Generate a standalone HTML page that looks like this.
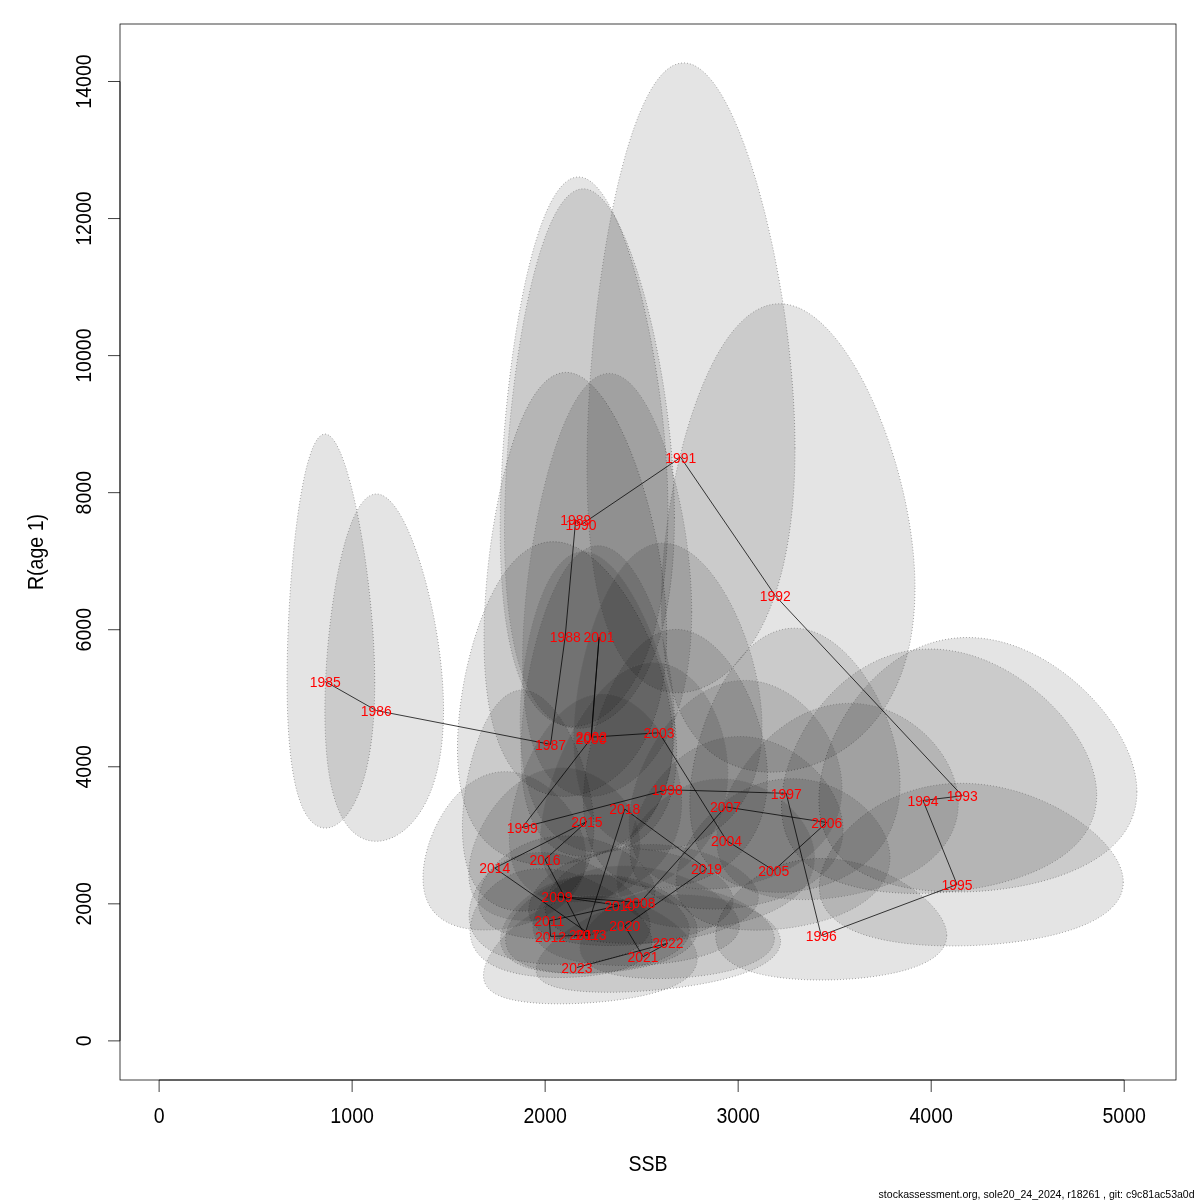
<!DOCTYPE html>
<html><head><meta charset="utf-8"><style>
html,body{margin:0;padding:0;background:#fff;width:1200px;height:1200px;overflow:hidden}
svg{display:block;font-family:"Liberation Sans",sans-serif;will-change:transform}
</style></head><body>
<svg width="1200" height="1200" viewBox="0 0 1200 1200">
<rect width="1200" height="1200" fill="#fff"/>
<g fill="rgba(0,0,0,0.105)" stroke="#6a6a6a" stroke-width="0.75" stroke-dasharray="0.75 2.25">
<path d="M374.71 682.44 L374.67 689.74 L374.54 696.87 L374.32 703.84 L374.02 710.63 L373.63 717.25 L373.16 723.68 L372.61 729.92 L371.98 735.98 L371.26 741.84 L370.47 747.50 L369.61 752.97 L368.67 758.23 L367.66 763.30 L366.58 768.17 L365.44 772.84 L364.23 777.31 L362.97 781.58 L361.65 785.66 L360.27 789.54 L358.85 793.22 L357.38 796.71 L355.87 800.00 L354.32 803.11 L352.73 806.02 L351.11 808.75 L349.46 811.29 L347.78 813.64 L346.09 815.82 L344.37 817.81 L342.64 819.62 L340.90 821.25 L339.15 822.70 L337.39 823.98 L335.63 825.08 L333.87 826.01 L332.12 826.77 L330.37 827.35 L328.63 827.76 L326.91 827.99 L325.20 828.06 L323.51 827.95 L321.83 827.67 L320.18 827.22 L318.56 826.59 L316.96 825.79 L315.39 824.82 L313.84 823.67 L312.34 822.35 L310.86 820.85 L309.42 819.17 L308.01 817.32 L306.65 815.28 L305.32 813.06 L304.03 810.66 L302.79 808.07 L301.59 805.30 L300.43 802.33 L299.31 799.18 L298.24 795.84 L297.22 792.30 L296.24 788.57 L295.31 784.64 L294.43 780.51 L293.60 776.19 L292.81 771.67 L292.07 766.95 L291.39 762.03 L290.75 756.91 L290.16 751.59 L289.63 746.08 L289.14 740.36 L288.70 734.45 L288.32 728.35 L287.98 722.06 L287.70 715.58 L287.47 708.92 L287.29 702.08 L287.16 695.07 L287.08 687.89 L287.06 680.56 L287.08 673.07 L287.16 665.44 L287.29 657.68 L287.47 649.80 L287.70 641.80 L287.98 633.71 L288.32 625.53 L288.70 617.29 L289.14 608.99 L289.63 600.65 L290.16 592.30 L290.75 583.94 L291.39 575.59 L292.07 567.28 L292.81 559.03 L293.60 550.86 L294.43 542.79 L295.31 534.84 L296.24 527.03 L297.22 519.39 L298.24 511.94 L299.31 504.70 L300.43 497.70 L301.59 490.96 L302.79 484.50 L304.03 478.35 L305.32 472.51 L306.65 467.03 L308.01 461.91 L309.42 457.17 L310.86 452.83 L312.34 448.91 L313.84 445.42 L315.39 442.38 L316.96 439.80 L318.56 437.68 L320.18 436.04 L321.83 434.88 L323.51 434.21 L325.20 434.03 L326.91 434.34 L328.63 435.13 L330.37 436.41 L332.12 438.18 L333.87 440.41 L335.63 443.11 L337.39 446.27 L339.15 449.87 L340.90 453.90 L342.64 458.34 L344.37 463.17 L346.09 468.39 L347.78 473.97 L349.46 479.88 L351.11 486.12 L352.73 492.65 L354.32 499.46 L355.87 506.53 L357.38 513.82 L358.85 521.32 L360.27 529.00 L361.65 536.85 L362.97 544.83 L364.23 552.93 L365.44 561.13 L366.58 569.40 L367.66 577.71 L368.67 586.06 L369.61 594.42 L370.47 602.78 L371.26 611.11 L371.98 619.39 L372.61 627.62 L373.16 635.78 L373.63 643.85 L374.02 651.81 L374.32 659.67 L374.54 667.40 L374.67 674.99 Z"/>
<path d="M443.53 710.00 L443.47 716.48 L443.29 722.83 L443.00 729.04 L442.58 735.09 L442.06 741.00 L441.41 746.74 L440.66 752.32 L439.79 757.74 L438.82 762.99 L437.74 768.07 L436.56 772.98 L435.28 777.72 L433.91 782.28 L432.44 786.66 L430.88 790.87 L429.24 794.91 L427.52 798.77 L425.72 802.45 L423.85 805.96 L421.91 809.30 L419.91 812.47 L417.85 815.46 L415.74 818.28 L413.58 820.94 L411.38 823.42 L409.14 825.74 L406.86 827.89 L404.56 829.88 L402.23 831.71 L399.88 833.37 L397.51 834.87 L395.14 836.22 L392.76 837.40 L390.37 838.43 L387.99 839.30 L385.61 840.01 L383.25 840.56 L380.90 840.96 L378.56 841.21 L376.25 841.30 L373.96 841.23 L371.70 841.01 L369.47 840.63 L367.27 840.10 L365.11 839.42 L362.99 838.57 L360.91 837.57 L358.87 836.41 L356.88 835.09 L354.94 833.61 L353.05 831.97 L351.21 830.17 L349.42 828.21 L347.69 826.08 L346.01 823.79 L344.40 821.33 L342.84 818.70 L341.34 815.90 L339.90 812.93 L338.52 809.80 L337.21 806.49 L335.96 803.00 L334.78 799.34 L333.66 795.51 L332.60 791.50 L331.61 787.32 L330.69 782.96 L329.84 778.43 L329.05 773.72 L328.33 768.83 L327.68 763.78 L327.09 758.56 L326.58 753.16 L326.13 747.60 L325.75 741.88 L325.44 736.00 L325.20 729.97 L325.03 723.79 L324.92 717.46 L324.89 711.00 L324.92 704.41 L325.03 697.69 L325.20 690.86 L325.44 683.93 L325.75 676.90 L326.13 669.79 L326.58 662.61 L327.09 655.38 L327.68 648.09 L328.33 640.78 L329.05 633.45 L329.84 626.11 L330.69 618.80 L331.61 611.52 L332.60 604.29 L333.66 597.13 L334.78 590.05 L335.96 583.08 L337.21 576.24 L338.52 569.55 L339.90 563.02 L341.34 556.67 L342.84 550.53 L344.40 544.62 L346.01 538.94 L347.69 533.53 L349.42 528.41 L351.21 523.57 L353.05 519.06 L354.94 514.88 L356.88 511.04 L358.87 507.56 L360.91 504.46 L362.99 501.74 L365.11 499.42 L367.27 497.50 L369.47 495.99 L371.70 494.90 L373.96 494.23 L376.25 493.99 L378.56 494.17 L380.90 494.77 L383.25 495.80 L385.61 497.24 L387.99 499.10 L390.37 501.36 L392.76 504.02 L395.14 507.06 L397.51 510.48 L399.88 514.27 L402.23 518.40 L404.56 522.86 L406.86 527.65 L409.14 532.73 L411.38 538.10 L413.58 543.73 L415.74 549.61 L417.85 555.72 L419.91 562.04 L421.91 568.54 L423.85 575.21 L425.72 582.03 L427.52 588.98 L429.24 596.04 L430.88 603.19 L432.44 610.41 L433.91 617.68 L435.28 625.00 L436.56 632.33 L437.74 639.66 L438.82 646.98 L439.79 654.26 L440.66 661.51 L441.41 668.70 L442.06 675.82 L442.58 682.86 L443.00 689.81 L443.29 696.66 L443.47 703.39 Z"/>
<path d="M672.77 740.51 L672.66 746.60 L672.34 752.55 L671.80 758.38 L671.05 764.06 L670.10 769.60 L668.93 775.00 L667.56 780.24 L665.99 785.33 L664.22 790.26 L662.26 795.04 L660.11 799.65 L657.79 804.10 L655.29 808.39 L652.62 812.52 L649.79 816.48 L646.80 820.28 L643.67 823.91 L640.41 827.38 L637.01 830.70 L633.49 833.85 L629.86 836.83 L626.12 839.66 L622.29 842.34 L618.36 844.85 L614.36 847.21 L610.29 849.42 L606.16 851.47 L601.97 853.38 L597.75 855.13 L593.48 856.73 L589.19 858.18 L584.88 859.49 L580.55 860.65 L576.23 861.67 L571.90 862.54 L567.59 863.27 L563.30 863.86 L559.03 864.30 L554.80 864.61 L550.60 864.77 L546.45 864.79 L542.35 864.67 L538.30 864.40 L534.31 864.00 L530.40 863.45 L526.55 862.76 L522.78 861.92 L519.08 860.95 L515.47 859.82 L511.95 858.56 L508.52 857.14 L505.19 855.58 L501.95 853.87 L498.81 852.01 L495.77 850.00 L492.84 847.83 L490.01 845.51 L487.29 843.04 L484.69 840.41 L482.19 837.62 L479.81 834.68 L477.55 831.57 L475.40 828.31 L473.37 824.88 L471.46 821.29 L469.67 817.53 L468.00 813.62 L466.45 809.54 L465.03 805.29 L463.72 800.88 L462.54 796.31 L461.48 791.58 L460.55 786.70 L459.74 781.65 L459.05 776.45 L458.49 771.09 L458.05 765.59 L457.74 759.94 L457.55 754.16 L457.49 748.24 L457.55 742.19 L457.74 736.02 L458.05 729.73 L458.49 723.34 L459.05 716.86 L459.74 710.28 L460.55 703.63 L461.48 696.91 L462.54 690.14 L463.72 683.33 L465.03 676.49 L466.45 669.64 L468.00 662.80 L469.67 655.97 L471.46 649.17 L473.37 642.43 L475.40 635.75 L477.55 629.16 L479.81 622.68 L482.19 616.31 L484.69 610.09 L487.29 604.03 L490.01 598.15 L492.84 592.47 L495.77 587.01 L498.81 581.78 L501.95 576.80 L505.19 572.09 L508.52 567.67 L511.95 563.55 L515.47 559.75 L519.08 556.29 L522.78 553.16 L526.55 550.39 L530.40 547.99 L534.31 545.97 L538.30 544.33 L542.35 543.08 L546.45 542.22 L550.60 541.77 L554.80 541.71 L559.03 542.06 L563.30 542.80 L567.59 543.95 L571.90 545.48 L576.23 547.40 L580.55 549.70 L584.88 552.37 L589.19 555.40 L593.48 558.77 L597.75 562.48 L601.97 566.52 L606.16 570.86 L610.29 575.49 L614.36 580.39 L618.36 585.55 L622.29 590.96 L626.12 596.58 L629.86 602.41 L633.49 608.42 L637.01 614.60 L640.41 620.92 L643.67 627.38 L646.80 633.94 L649.79 640.59 L652.62 647.32 L655.29 654.10 L657.79 660.93 L660.11 667.77 L662.26 674.62 L664.22 681.47 L665.99 688.28 L667.56 695.07 L668.93 701.80 L670.10 708.47 L671.05 715.07 L671.80 721.58 L672.34 728.00 L672.66 734.31 Z"/>
<path d="M666.65 634.36 L666.56 642.31 L666.30 650.09 L665.87 657.70 L665.26 665.14 L664.48 672.39 L663.53 679.44 L662.42 686.30 L661.14 692.96 L659.70 699.42 L658.11 705.66 L656.36 711.70 L654.46 717.53 L652.42 723.15 L650.24 728.55 L647.93 733.73 L645.49 738.71 L642.92 743.47 L640.24 748.01 L637.45 752.35 L634.56 756.47 L631.57 760.38 L628.48 764.08 L625.32 767.57 L622.07 770.85 L618.76 773.93 L615.38 776.81 L611.95 779.48 L608.47 781.95 L604.94 784.23 L601.38 786.30 L597.78 788.18 L594.17 789.86 L590.54 791.34 L586.90 792.64 L583.26 793.74 L579.62 794.65 L575.98 795.37 L572.37 795.89 L568.77 796.23 L565.20 796.38 L561.66 796.34 L558.16 796.11 L554.69 795.68 L551.28 795.07 L547.91 794.27 L544.60 793.28 L541.35 792.09 L538.16 790.71 L535.04 789.14 L531.98 787.37 L529.00 785.41 L526.10 783.25 L523.28 780.89 L520.54 778.33 L517.88 775.57 L515.31 772.60 L512.83 769.44 L510.45 766.06 L508.16 762.48 L505.96 758.68 L503.86 754.68 L501.86 750.47 L499.96 746.04 L498.17 741.40 L496.47 736.55 L494.88 731.48 L493.40 726.20 L492.02 720.70 L490.75 714.99 L489.59 709.07 L488.54 702.94 L487.59 696.60 L486.76 690.06 L486.04 683.31 L485.42 676.36 L484.92 669.22 L484.53 661.89 L484.25 654.38 L484.08 646.69 L484.03 638.83 L484.08 630.81 L484.25 622.64 L484.53 614.33 L484.92 605.89 L485.42 597.34 L486.04 588.68 L486.76 579.93 L487.59 571.11 L488.54 562.23 L489.59 553.31 L490.75 544.36 L492.02 535.41 L493.40 526.48 L494.88 517.59 L496.47 508.75 L498.17 499.99 L499.96 491.33 L501.86 482.80 L503.86 474.42 L505.96 466.22 L508.16 458.21 L510.45 450.42 L512.83 442.87 L515.31 435.60 L517.88 428.62 L520.54 421.95 L523.28 415.62 L526.10 409.65 L529.00 404.07 L531.98 398.88 L535.04 394.11 L538.16 389.78 L541.35 385.90 L544.60 382.49 L547.91 379.56 L551.28 377.11 L554.69 375.17 L558.16 373.74 L561.66 372.82 L565.20 372.41 L568.77 372.53 L572.37 373.16 L575.98 374.31 L579.62 375.96 L583.26 378.13 L586.90 380.78 L590.54 383.93 L594.17 387.55 L597.78 391.63 L601.38 396.15 L604.94 401.11 L608.47 406.47 L611.95 412.23 L615.38 418.36 L618.76 424.84 L622.07 431.65 L625.32 438.76 L628.48 446.16 L631.57 453.81 L634.56 461.70 L637.45 469.80 L640.24 478.09 L642.92 486.54 L645.49 495.13 L647.93 503.83 L650.24 512.63 L652.42 521.49 L654.46 530.41 L656.36 539.35 L658.11 548.30 L659.70 557.23 L661.14 566.14 L662.42 575.00 L663.53 583.79 L664.48 592.50 L665.26 601.12 L665.87 609.62 L666.30 618.00 L666.56 626.25 Z"/>
<path d="M667.93 510.93 L667.86 521.35 L667.62 531.55 L667.23 541.54 L666.68 551.30 L665.98 560.82 L665.13 570.10 L664.13 579.13 L662.98 587.89 L661.68 596.40 L660.25 604.64 L658.67 612.61 L656.96 620.30 L655.12 627.72 L653.16 634.87 L651.07 641.74 L648.87 648.32 L646.55 654.64 L644.13 660.67 L641.60 666.43 L638.98 671.91 L636.28 677.12 L633.48 682.06 L630.61 686.73 L627.67 691.12 L624.66 695.25 L621.59 699.12 L618.47 702.72 L615.30 706.06 L612.08 709.14 L608.84 711.97 L605.56 714.54 L602.26 716.85 L598.94 718.91 L595.61 720.72 L592.28 722.29 L588.94 723.60 L585.61 724.67 L582.29 725.49 L578.98 726.06 L575.70 726.39 L572.44 726.47 L569.21 726.31 L566.02 725.90 L562.87 725.25 L559.76 724.35 L556.70 723.21 L553.69 721.81 L550.73 720.17 L547.84 718.28 L545.01 716.14 L542.24 713.74 L539.54 711.09 L536.92 708.19 L534.36 705.02 L531.89 701.60 L529.50 697.92 L527.18 693.97 L524.96 689.75 L522.81 685.27 L520.76 680.52 L518.80 675.49 L516.93 670.19 L515.15 664.62 L513.47 658.78 L511.88 652.65 L510.39 646.25 L508.99 639.57 L507.70 632.62 L506.51 625.39 L505.42 617.88 L504.43 610.09 L503.54 602.04 L502.76 593.71 L502.08 585.12 L501.50 576.27 L501.03 567.17 L500.66 557.81 L500.40 548.21 L500.24 538.38 L500.19 528.32 L500.24 518.05 L500.40 507.57 L500.66 496.90 L501.03 486.06 L501.50 475.06 L502.08 463.90 L502.76 452.63 L503.54 441.24 L504.43 429.77 L505.42 418.22 L506.51 406.64 L507.70 395.03 L508.99 383.43 L510.39 371.87 L511.88 360.35 L513.47 348.93 L515.15 337.62 L516.93 326.46 L518.80 315.47 L520.76 304.69 L522.81 294.15 L524.96 283.88 L527.18 273.90 L529.50 264.26 L531.89 254.98 L534.36 246.09 L536.92 237.63 L539.54 229.61 L542.24 222.08 L545.01 215.05 L547.84 208.55 L550.73 202.60 L553.69 197.23 L556.70 192.46 L559.76 188.30 L562.87 184.77 L566.02 181.88 L569.21 179.65 L572.44 178.08 L575.70 177.18 L578.98 176.95 L582.29 177.39 L585.61 178.51 L588.94 180.29 L592.28 182.73 L595.61 185.83 L598.94 189.56 L602.26 193.92 L605.56 198.88 L608.84 204.44 L612.08 210.56 L615.30 217.23 L618.47 224.43 L621.59 232.12 L624.66 240.28 L627.67 248.88 L630.61 257.90 L633.48 267.30 L636.28 277.05 L638.98 287.12 L641.60 297.49 L644.13 308.11 L646.55 318.96 L648.87 330.00 L651.07 341.22 L653.16 352.56 L655.12 364.02 L656.96 375.55 L658.67 387.13 L660.25 398.74 L661.68 410.34 L662.98 421.91 L664.13 433.44 L665.13 444.88 L665.98 456.24 L666.68 467.48 L667.23 478.58 L667.62 489.54 L667.86 500.33 Z"/>
<path d="M674.41 517.77 L674.33 527.96 L674.09 537.96 L673.69 547.74 L673.14 557.30 L672.43 566.62 L671.57 575.70 L670.55 584.54 L669.39 593.12 L668.08 601.45 L666.62 609.51 L665.03 617.31 L663.30 624.84 L661.43 632.11 L659.44 639.10 L657.33 645.81 L655.10 652.26 L652.75 658.43 L650.30 664.34 L647.74 669.97 L645.09 675.33 L642.35 680.42 L639.52 685.24 L636.61 689.80 L633.63 694.09 L630.58 698.12 L627.47 701.89 L624.31 705.40 L621.10 708.66 L617.85 711.65 L614.56 714.40 L611.24 716.89 L607.90 719.14 L604.54 721.13 L601.16 722.88 L597.79 724.39 L594.41 725.64 L591.04 726.66 L587.67 727.43 L584.33 727.96 L581.00 728.25 L577.70 728.29 L574.43 728.10 L571.20 727.66 L568.00 726.98 L564.86 726.05 L561.76 724.89 L558.71 723.48 L555.72 721.82 L552.78 719.92 L549.91 717.77 L547.11 715.37 L544.38 712.71 L541.72 709.81 L539.14 706.65 L536.63 703.24 L534.21 699.57 L531.87 695.63 L529.61 691.44 L527.44 686.98 L525.36 682.26 L523.37 677.27 L521.48 672.01 L519.68 666.48 L517.97 660.68 L516.37 654.61 L514.86 648.27 L513.45 641.65 L512.14 634.76 L510.93 627.60 L509.82 620.17 L508.82 612.47 L507.92 604.51 L507.13 596.28 L506.44 587.79 L505.85 579.05 L505.38 570.06 L505.00 560.82 L504.74 551.35 L504.58 541.66 L504.52 531.74 L504.58 521.62 L504.74 511.30 L505.00 500.79 L505.38 490.12 L505.85 479.29 L506.44 468.33 L507.13 457.24 L507.92 446.05 L508.82 434.78 L509.82 423.45 L510.93 412.08 L512.14 400.70 L513.45 389.33 L514.86 377.99 L516.37 366.72 L517.97 355.54 L519.68 344.47 L521.48 333.56 L523.37 322.82 L525.36 312.29 L527.44 302.00 L529.61 291.98 L531.87 282.26 L534.21 272.87 L536.63 263.84 L539.14 255.20 L541.72 246.98 L544.38 239.20 L547.11 231.90 L549.91 225.09 L552.78 218.81 L555.72 213.08 L558.71 207.91 L561.76 203.33 L564.86 199.36 L568.00 196.00 L571.20 193.27 L574.43 191.18 L577.70 189.75 L581.00 188.97 L584.33 188.84 L587.67 189.38 L591.04 190.57 L594.41 192.41 L597.79 194.90 L601.16 198.02 L604.54 201.77 L607.90 206.12 L611.24 211.07 L614.56 216.60 L617.85 222.67 L621.10 229.28 L624.31 236.40 L627.47 244.00 L630.58 252.06 L633.63 260.55 L636.61 269.44 L639.52 278.70 L642.35 288.30 L645.09 298.21 L647.74 308.40 L650.30 318.84 L652.75 329.51 L655.10 340.36 L657.33 351.37 L659.44 362.51 L661.43 373.75 L663.30 385.07 L665.03 396.43 L666.62 407.81 L668.08 419.19 L669.39 430.53 L670.55 441.83 L671.57 453.05 L672.43 464.18 L673.14 475.19 L673.69 486.07 L674.09 496.81 L674.33 507.38 Z"/>
<path d="M794.97 448.59 L794.87 460.49 L794.58 472.13 L794.10 483.53 L793.42 494.65 L792.56 505.50 L791.50 516.06 L790.26 526.33 L788.84 536.31 L787.23 545.98 L785.46 555.33 L783.51 564.38 L781.39 573.12 L779.11 581.53 L776.68 589.63 L774.09 597.41 L771.36 604.87 L768.50 612.02 L765.50 618.84 L762.37 625.35 L759.13 631.55 L755.77 637.43 L752.31 643.00 L748.76 648.27 L745.11 653.22 L741.38 657.87 L737.58 662.23 L733.71 666.28 L729.78 670.03 L725.80 673.49 L721.78 676.66 L717.72 679.54 L713.63 682.13 L709.51 684.44 L705.39 686.46 L701.25 688.20 L697.12 689.66 L692.99 690.84 L688.87 691.74 L684.77 692.36 L680.70 692.70 L676.66 692.77 L672.66 692.56 L668.70 692.07 L664.78 691.30 L660.93 690.26 L657.13 688.93 L653.39 687.33 L649.73 685.44 L646.14 683.27 L642.62 680.82 L639.19 678.07 L635.84 675.04 L632.58 671.72 L629.41 668.11 L626.34 664.20 L623.37 659.99 L620.50 655.48 L617.73 650.67 L615.07 645.55 L612.52 640.13 L610.09 634.39 L607.76 628.35 L605.55 621.99 L603.46 615.31 L601.49 608.32 L599.64 601.01 L597.91 593.38 L596.30 585.44 L594.82 577.17 L593.46 568.59 L592.24 559.69 L591.13 550.48 L590.16 540.96 L589.31 531.13 L588.60 521.00 L588.01 510.58 L587.55 499.86 L587.23 488.87 L587.03 477.60 L586.96 466.07 L587.03 454.30 L587.23 442.28 L587.55 430.05 L588.01 417.61 L588.60 404.98 L589.31 392.18 L590.16 379.23 L591.13 366.15 L592.24 352.97 L593.46 339.71 L594.82 326.40 L596.30 313.06 L597.91 299.72 L599.64 286.42 L601.49 273.19 L603.46 260.05 L605.55 247.04 L607.76 234.20 L610.09 221.56 L612.52 209.16 L615.07 197.04 L617.73 185.22 L620.50 173.75 L623.37 162.66 L626.34 151.99 L629.41 141.78 L632.58 132.06 L635.84 122.85 L639.19 114.20 L642.62 106.14 L646.14 98.69 L649.73 91.89 L653.39 85.75 L657.13 80.30 L660.93 75.56 L664.78 71.55 L668.70 68.29 L672.66 65.79 L676.66 64.05 L680.70 63.09 L684.77 62.90 L688.87 63.49 L692.99 64.86 L697.12 67.00 L701.25 69.90 L705.39 73.56 L709.51 77.95 L713.63 83.06 L717.72 88.87 L721.78 95.36 L725.80 102.51 L729.78 110.28 L733.71 118.65 L737.58 127.60 L741.38 137.08 L745.11 147.06 L748.76 157.52 L752.31 168.41 L755.77 179.70 L759.13 191.36 L762.37 203.34 L765.50 215.62 L768.50 228.14 L771.36 240.89 L774.09 253.82 L776.68 266.90 L779.11 280.10 L781.39 293.37 L783.51 306.69 L785.46 320.03 L787.23 333.36 L788.84 346.65 L790.26 359.88 L791.50 373.01 L792.56 386.02 L793.42 398.89 L794.10 411.60 L794.58 424.14 L794.87 436.47 Z"/>
<path d="M914.97 588.10 L914.85 596.98 L914.49 605.69 L913.90 614.20 L913.07 622.53 L912.01 630.65 L910.71 638.57 L909.19 646.27 L907.45 653.75 L905.48 661.01 L903.31 668.04 L900.92 674.84 L898.32 681.41 L895.53 687.75 L892.55 693.85 L889.39 699.71 L886.05 705.33 L882.53 710.72 L878.86 715.88 L875.04 720.80 L871.07 725.48 L866.96 729.93 L862.73 734.15 L858.38 738.13 L853.92 741.89 L849.36 745.42 L844.71 748.72 L839.99 751.80 L835.19 754.66 L830.32 757.29 L825.41 759.70 L820.45 761.90 L815.46 763.88 L810.44 765.65 L805.40 767.20 L800.36 768.54 L795.31 769.66 L790.28 770.58 L785.26 771.28 L780.26 771.78 L775.30 772.06 L770.38 772.14 L765.50 772.01 L760.68 771.67 L755.92 771.11 L751.22 770.35 L746.60 769.38 L742.06 768.20 L737.60 766.80 L733.23 765.19 L728.96 763.37 L724.79 761.33 L720.72 759.08 L716.76 756.61 L712.91 753.91 L709.18 751.00 L705.58 747.86 L702.09 744.49 L698.73 740.90 L695.51 737.09 L692.42 733.04 L689.46 728.76 L686.64 724.25 L683.96 719.50 L681.43 714.52 L679.04 709.30 L676.79 703.85 L674.70 698.16 L672.75 692.23 L670.96 686.07 L669.31 679.67 L667.82 673.04 L666.49 666.18 L665.31 659.09 L664.28 651.77 L663.42 644.23 L662.70 636.47 L662.15 628.50 L661.76 620.32 L661.52 611.94 L661.44 603.37 L661.52 594.62 L661.76 585.69 L662.15 576.60 L662.70 567.36 L663.42 557.99 L664.28 548.48 L665.31 538.87 L666.49 529.17 L667.82 519.40 L669.31 509.56 L670.96 499.69 L672.75 489.80 L674.70 479.91 L676.79 470.06 L679.04 460.25 L681.43 450.51 L683.96 440.87 L686.64 431.36 L689.46 421.99 L692.42 412.80 L695.51 403.82 L698.73 395.06 L702.09 386.55 L705.58 378.33 L709.18 370.42 L712.91 362.84 L716.76 355.62 L720.72 348.78 L724.79 342.35 L728.96 336.35 L733.23 330.81 L737.60 325.73 L742.06 321.14 L746.60 317.07 L751.22 313.51 L755.92 310.49 L760.68 308.02 L765.50 306.10 L770.38 304.75 L775.30 303.97 L780.26 303.76 L785.26 304.12 L790.28 305.05 L795.31 306.56 L800.36 308.62 L805.40 311.25 L810.44 314.41 L815.46 318.11 L820.45 322.32 L825.41 327.04 L830.32 332.25 L835.19 337.92 L839.99 344.03 L844.71 350.58 L849.36 357.52 L853.92 364.84 L858.38 372.51 L862.73 380.51 L866.96 388.81 L871.07 397.38 L875.04 406.20 L878.86 415.25 L882.53 424.49 L886.05 433.90 L889.39 443.45 L892.55 453.11 L895.53 462.87 L898.32 472.69 L900.92 482.56 L903.31 492.45 L905.48 502.34 L907.45 512.20 L909.19 522.02 L910.71 531.78 L912.01 541.46 L913.07 551.04 L913.90 560.51 L914.49 569.85 L914.85 579.05 Z"/>
<path d="M1136.90 791.74 L1136.75 796.56 L1136.30 801.30 L1135.56 805.93 L1134.53 810.46 L1133.21 814.88 L1131.60 819.18 L1129.70 823.38 L1127.53 827.45 L1125.08 831.40 L1122.37 835.23 L1119.39 838.93 L1116.16 842.51 L1112.68 845.96 L1108.96 849.29 L1105.01 852.48 L1100.85 855.55 L1096.47 858.49 L1091.88 861.30 L1087.11 863.98 L1082.16 866.53 L1077.03 868.96 L1071.75 871.26 L1066.31 873.44 L1060.74 875.49 L1055.05 877.41 L1049.24 879.22 L1043.33 880.90 L1037.32 882.46 L1031.24 883.89 L1025.09 885.21 L1018.89 886.41 L1012.64 887.49 L1006.35 888.45 L1000.04 889.30 L993.72 890.03 L987.40 890.64 L981.09 891.14 L974.79 891.52 L968.53 891.79 L962.30 891.94 L956.12 891.98 L950.00 891.91 L943.94 891.72 L937.96 891.41 L932.06 890.99 L926.25 890.46 L920.54 889.81 L914.93 889.04 L909.44 888.16 L904.06 887.16 L898.81 886.04 L893.68 884.80 L888.70 883.45 L883.85 881.97 L879.15 880.37 L874.60 878.65 L870.21 876.81 L865.98 874.85 L861.91 872.76 L858.01 870.54 L854.28 868.20 L850.72 865.73 L847.34 863.14 L844.14 860.42 L841.12 857.56 L838.28 854.58 L835.64 851.48 L833.18 848.24 L830.91 844.88 L828.83 841.38 L826.95 837.76 L825.26 834.02 L823.77 830.15 L822.48 826.16 L821.38 822.05 L820.48 817.82 L819.78 813.48 L819.28 809.02 L818.98 804.46 L818.88 799.80 L818.98 795.03 L819.28 790.18 L819.78 785.23 L820.48 780.21 L821.38 775.11 L822.48 769.95 L823.77 764.73 L825.26 759.46 L826.95 754.15 L828.83 748.81 L830.91 743.45 L833.18 738.09 L835.64 732.73 L838.28 727.38 L841.12 722.06 L844.14 716.79 L847.34 711.57 L850.72 706.41 L854.28 701.34 L858.01 696.37 L861.91 691.50 L865.98 686.77 L870.21 682.17 L874.60 677.72 L879.15 673.44 L883.85 669.34 L888.70 665.44 L893.68 661.75 L898.81 658.28 L904.06 655.04 L909.44 652.05 L914.93 649.31 L920.54 646.83 L926.25 644.64 L932.06 642.72 L937.96 641.10 L943.94 639.77 L950.00 638.74 L956.12 638.02 L962.30 637.60 L968.53 637.50 L974.79 637.70 L981.09 638.21 L987.40 639.03 L993.72 640.16 L1000.04 641.58 L1006.35 643.30 L1012.64 645.31 L1018.89 647.59 L1025.09 650.15 L1031.24 652.97 L1037.32 656.05 L1043.33 659.36 L1049.24 662.90 L1055.05 666.67 L1060.74 670.63 L1066.31 674.79 L1071.75 679.12 L1077.03 683.62 L1082.16 688.26 L1087.11 693.04 L1091.88 697.94 L1096.47 702.95 L1100.85 708.05 L1105.01 713.23 L1108.96 718.47 L1112.68 723.76 L1116.16 729.09 L1119.39 734.44 L1122.37 739.80 L1125.08 745.17 L1127.53 750.52 L1129.70 755.85 L1131.60 761.15 L1133.21 766.40 L1134.53 771.60 L1135.56 776.75 L1136.30 781.82 L1136.75 786.82 Z"/>
<path d="M1096.71 795.15 L1096.56 799.82 L1096.12 804.41 L1095.38 808.89 L1094.35 813.29 L1093.03 817.57 L1091.42 821.76 L1089.52 825.83 L1087.35 829.79 L1084.91 833.64 L1082.20 837.37 L1079.23 840.98 L1076.00 844.48 L1072.53 847.85 L1068.82 851.10 L1064.89 854.22 L1060.73 857.23 L1056.36 860.11 L1051.79 862.87 L1047.03 865.50 L1042.10 868.01 L1036.99 870.40 L1031.73 872.66 L1026.32 874.81 L1020.77 876.83 L1015.10 878.73 L1009.32 880.52 L1003.44 882.18 L997.47 883.73 L991.42 885.16 L985.31 886.48 L979.14 887.67 L972.93 888.76 L966.69 889.73 L960.43 890.58 L954.15 891.33 L947.88 891.96 L941.62 892.47 L935.38 892.88 L929.17 893.17 L923.00 893.36 L916.88 893.43 L910.82 893.39 L904.82 893.24 L898.90 892.98 L893.07 892.60 L887.32 892.12 L881.67 891.52 L876.13 890.81 L870.70 889.99 L865.39 889.05 L860.20 888.00 L855.15 886.84 L850.22 885.56 L845.44 884.16 L840.81 882.65 L836.32 881.02 L831.99 879.27 L827.82 877.40 L823.81 875.41 L819.97 873.30 L816.29 871.07 L812.79 868.72 L809.46 866.25 L806.31 863.65 L803.34 860.93 L800.55 858.08 L797.95 855.12 L795.53 852.03 L793.30 848.81 L791.26 845.48 L789.41 842.02 L787.75 838.44 L786.28 834.75 L785.01 830.93 L783.93 827.00 L783.05 822.96 L782.36 818.81 L781.87 814.55 L781.57 810.19 L781.47 805.73 L781.57 801.17 L781.87 796.53 L782.36 791.80 L783.05 787.00 L783.93 782.12 L785.01 777.18 L786.28 772.18 L787.75 767.14 L789.41 762.06 L791.26 756.95 L793.30 751.82 L795.53 746.68 L797.95 741.54 L800.55 736.41 L803.34 731.31 L806.31 726.25 L809.46 721.24 L812.79 716.29 L816.29 711.41 L819.97 706.63 L823.81 701.95 L827.82 697.38 L831.99 692.95 L836.32 688.65 L840.81 684.52 L845.44 680.55 L850.22 676.77 L855.15 673.19 L860.20 669.81 L865.39 666.65 L870.70 663.73 L876.13 661.04 L881.67 658.60 L887.32 656.43 L893.07 654.52 L898.90 652.89 L904.82 651.53 L910.82 650.46 L916.88 649.69 L923.00 649.20 L929.17 649.01 L935.38 649.11 L941.62 649.51 L947.88 650.21 L954.15 651.19 L960.43 652.46 L966.69 654.01 L972.93 655.84 L979.14 657.94 L985.31 660.30 L991.42 662.91 L997.47 665.77 L1003.44 668.86 L1009.32 672.18 L1015.10 675.70 L1020.77 679.43 L1026.32 683.34 L1031.73 687.43 L1036.99 691.67 L1042.10 696.07 L1047.03 700.60 L1051.79 705.25 L1056.36 710.00 L1060.73 714.85 L1064.89 719.78 L1068.82 724.78 L1072.53 729.83 L1076.00 734.92 L1079.23 740.04 L1082.20 745.17 L1084.91 750.31 L1087.35 755.45 L1089.52 760.57 L1091.42 765.66 L1093.03 770.71 L1094.35 775.72 L1095.38 780.68 L1096.12 785.58 L1096.56 790.40 Z"/>
<path d="M1123.28 882.14 L1123.14 885.22 L1122.72 888.24 L1122.02 891.20 L1121.04 894.08 L1119.78 896.90 L1118.25 899.65 L1116.45 902.32 L1114.39 904.92 L1112.07 907.44 L1109.49 909.88 L1106.66 912.24 L1103.59 914.52 L1100.29 916.71 L1096.76 918.83 L1093.01 920.87 L1089.05 922.82 L1084.88 924.69 L1080.53 926.48 L1075.99 928.18 L1071.28 929.81 L1066.40 931.35 L1061.38 932.82 L1056.21 934.20 L1050.91 935.50 L1045.48 936.73 L1039.95 937.87 L1034.32 938.94 L1028.60 939.93 L1022.81 940.84 L1016.95 941.68 L1011.03 942.44 L1005.07 943.12 L999.07 943.73 L993.05 944.26 L987.02 944.72 L980.98 945.11 L974.95 945.42 L968.94 945.66 L962.95 945.83 L957.00 945.92 L951.09 945.94 L945.24 945.88 L939.44 945.76 L933.72 945.56 L928.07 945.28 L922.51 944.94 L917.04 944.52 L911.66 944.02 L906.40 943.45 L901.24 942.81 L896.21 942.09 L891.29 941.29 L886.51 940.42 L881.86 939.47 L877.35 938.45 L872.98 937.34 L868.76 936.16 L864.70 934.90 L860.79 933.56 L857.04 932.14 L853.45 930.64 L850.03 929.05 L846.78 927.39 L843.70 925.64 L840.80 923.82 L838.07 921.91 L835.53 919.92 L833.16 917.84 L830.98 915.69 L828.98 913.45 L827.17 911.13 L825.54 908.73 L824.10 906.26 L822.86 903.70 L821.80 901.07 L820.94 898.36 L820.26 895.58 L819.78 892.73 L819.49 889.81 L819.39 886.82 L819.49 883.78 L819.78 880.67 L820.26 877.50 L820.94 874.29 L821.80 871.03 L822.86 867.73 L824.10 864.39 L825.54 861.02 L827.17 857.62 L828.98 854.21 L830.98 850.79 L833.16 847.36 L835.53 843.93 L838.07 840.51 L840.80 837.12 L843.70 833.75 L846.78 830.41 L850.03 827.12 L853.45 823.88 L857.04 820.71 L860.79 817.60 L864.70 814.58 L868.76 811.65 L872.98 808.81 L877.35 806.09 L881.86 803.48 L886.51 800.99 L891.29 798.64 L896.21 796.43 L901.24 794.37 L906.40 792.47 L911.66 790.73 L917.04 789.16 L922.51 787.77 L928.07 786.56 L933.72 785.54 L939.44 784.70 L945.24 784.06 L951.09 783.61 L957.00 783.36 L962.95 783.31 L968.94 783.46 L974.95 783.80 L980.98 784.34 L987.02 785.07 L993.05 786.00 L999.07 787.11 L1005.07 788.41 L1011.03 789.88 L1016.95 791.53 L1022.81 793.35 L1028.60 795.33 L1034.32 797.46 L1039.95 799.73 L1045.48 802.15 L1050.91 804.69 L1056.21 807.36 L1061.38 810.14 L1066.40 813.02 L1071.28 816.00 L1075.99 819.06 L1080.53 822.20 L1084.88 825.40 L1089.05 828.67 L1093.01 831.98 L1096.76 835.33 L1100.29 838.72 L1103.59 842.12 L1106.66 845.55 L1109.49 848.97 L1112.07 852.40 L1114.39 855.82 L1116.45 859.23 L1118.25 862.61 L1119.78 865.97 L1121.04 869.29 L1122.02 872.57 L1122.72 875.81 L1123.14 879.00 Z"/>
<path d="M946.72 935.50 L946.61 937.75 L946.30 939.94 L945.77 942.08 L945.04 944.17 L944.10 946.20 L942.95 948.17 L941.60 950.08 L940.05 951.93 L938.31 953.73 L936.38 955.46 L934.26 957.13 L931.96 958.73 L929.48 960.28 L926.83 961.77 L924.01 963.19 L921.03 964.55 L917.91 965.85 L914.63 967.09 L911.22 968.27 L907.67 969.39 L904.00 970.45 L900.22 971.45 L896.32 972.39 L892.33 973.27 L888.24 974.10 L884.06 974.87 L879.81 975.59 L875.49 976.25 L871.11 976.85 L866.68 977.40 L862.20 977.90 L857.69 978.34 L853.15 978.73 L848.58 979.07 L844.01 979.35 L839.43 979.59 L834.85 979.77 L830.28 979.90 L825.73 979.97 L821.20 980.00 L816.70 979.97 L812.24 979.90 L807.83 979.77 L803.46 979.59 L799.15 979.35 L794.90 979.07 L790.72 978.73 L786.62 978.34 L782.59 977.90 L778.64 977.40 L774.79 976.85 L771.02 976.25 L767.35 975.59 L763.79 974.87 L760.33 974.10 L756.97 973.27 L753.73 972.39 L750.61 971.45 L747.60 970.45 L744.72 969.39 L741.96 968.27 L739.32 967.09 L736.82 965.85 L734.45 964.55 L732.21 963.19 L730.11 961.77 L728.14 960.28 L726.32 958.73 L724.63 957.13 L723.09 955.46 L721.69 953.73 L720.43 951.93 L719.32 950.08 L718.36 948.17 L717.54 946.20 L716.88 944.17 L716.36 942.08 L715.98 939.94 L715.76 937.75 L715.68 935.50 L715.76 933.21 L715.98 930.86 L716.36 928.48 L716.88 926.06 L717.54 923.59 L718.36 921.10 L719.32 918.58 L720.43 916.03 L721.69 913.46 L723.09 910.88 L724.63 908.29 L726.32 905.69 L728.14 903.10 L730.11 900.52 L732.21 897.95 L734.45 895.40 L736.82 892.88 L739.32 890.39 L741.96 887.95 L744.72 885.55 L747.60 883.22 L750.61 880.95 L753.73 878.74 L756.97 876.62 L760.33 874.59 L763.79 872.64 L767.35 870.80 L771.02 869.07 L774.79 867.44 L778.64 865.94 L782.59 864.56 L786.62 863.31 L790.72 862.20 L794.90 861.22 L799.15 860.39 L803.46 859.71 L807.83 859.17 L812.24 858.79 L816.70 858.56 L821.20 858.48 L825.73 858.56 L830.28 858.79 L834.85 859.17 L839.43 859.71 L844.01 860.39 L848.58 861.22 L853.15 862.20 L857.69 863.31 L862.20 864.56 L866.68 865.94 L871.11 867.44 L875.49 869.07 L879.81 870.80 L884.06 872.64 L888.24 874.59 L892.33 876.62 L896.32 878.74 L900.22 880.95 L904.00 883.22 L907.67 885.55 L911.22 887.95 L914.63 890.39 L917.91 892.88 L921.03 895.40 L924.01 897.95 L926.83 900.52 L929.48 903.10 L931.96 905.69 L934.26 908.29 L936.38 910.88 L938.31 913.46 L940.05 916.03 L941.60 918.58 L942.95 921.10 L944.10 923.59 L945.04 926.06 L945.77 928.48 L946.30 930.86 L946.61 933.21 Z"/>
<path d="M900.03 783.76 L899.93 788.86 L899.65 793.87 L899.17 798.77 L898.51 803.57 L897.66 808.26 L896.62 812.83 L895.40 817.29 L894.00 821.62 L892.43 825.83 L890.68 829.92 L888.76 833.87 L886.68 837.70 L884.44 841.39 L882.04 844.95 L879.49 848.38 L876.80 851.67 L873.97 854.84 L871.00 857.86 L867.91 860.76 L864.70 863.52 L861.38 866.15 L857.95 868.65 L854.42 871.02 L850.80 873.25 L847.09 875.36 L843.30 877.34 L839.45 879.20 L835.53 880.92 L831.56 882.52 L827.53 884.00 L823.47 885.36 L819.37 886.59 L815.24 887.70 L811.10 888.69 L806.94 889.56 L802.78 890.31 L798.62 890.95 L794.46 891.46 L790.32 891.86 L786.20 892.14 L782.11 892.30 L778.05 892.35 L774.03 892.27 L770.05 892.09 L766.12 891.78 L762.25 891.36 L758.44 890.81 L754.70 890.15 L751.02 889.38 L747.42 888.48 L743.90 887.46 L740.47 886.32 L737.12 885.06 L733.86 883.68 L730.70 882.17 L727.64 880.54 L724.68 878.78 L721.82 876.90 L719.07 874.89 L716.43 872.75 L713.91 870.49 L711.50 868.09 L709.21 865.56 L707.04 862.90 L704.99 860.11 L703.07 857.19 L701.27 854.13 L699.60 850.94 L698.05 847.61 L696.64 844.15 L695.36 840.56 L694.21 836.84 L693.19 832.98 L692.31 829.00 L691.56 824.89 L690.95 820.65 L690.47 816.28 L690.13 811.80 L689.93 807.20 L689.86 802.49 L689.93 797.66 L690.13 792.73 L690.47 787.71 L690.95 782.59 L691.56 777.38 L692.31 772.09 L693.19 766.74 L694.21 761.32 L695.36 755.84 L696.64 750.33 L698.05 744.78 L699.60 739.20 L701.27 733.62 L703.07 728.03 L704.99 722.46 L707.04 716.92 L709.21 711.41 L711.50 705.96 L713.91 700.58 L716.43 695.28 L719.07 690.08 L721.82 684.99 L724.68 680.03 L727.64 675.21 L730.70 670.56 L733.86 666.07 L737.12 661.78 L740.47 657.68 L743.90 653.81 L747.42 650.16 L751.02 646.75 L754.70 643.61 L758.44 640.72 L762.25 638.12 L766.12 635.80 L770.05 633.78 L774.03 632.06 L778.05 630.65 L782.11 629.56 L786.20 628.79 L790.32 628.34 L794.46 628.21 L798.62 628.41 L802.78 628.93 L806.94 629.78 L811.10 630.95 L815.24 632.42 L819.37 634.21 L823.47 636.30 L827.53 638.69 L831.56 641.36 L835.53 644.30 L839.45 647.51 L843.30 650.97 L847.09 654.67 L850.80 658.60 L854.42 662.74 L857.95 667.08 L861.38 671.60 L864.70 676.30 L867.91 681.15 L871.00 686.14 L873.97 691.25 L876.80 696.48 L879.49 701.80 L882.04 707.20 L884.44 712.66 L886.68 718.18 L888.76 723.73 L890.68 729.30 L892.43 734.89 L894.00 740.47 L895.40 746.04 L896.62 751.59 L897.66 757.09 L898.51 762.56 L899.17 767.96 L899.65 773.30 L899.93 778.57 Z"/>
<path d="M767.46 777.43 L767.38 782.47 L767.13 787.43 L766.71 792.30 L766.12 797.07 L765.36 801.74 L764.45 806.30 L763.37 810.75 L762.13 815.08 L760.73 819.30 L759.19 823.39 L757.49 827.37 L755.64 831.21 L753.66 834.93 L751.54 838.53 L749.29 841.99 L746.91 845.33 L744.40 848.53 L741.79 851.61 L739.06 854.55 L736.22 857.36 L733.29 860.05 L730.26 862.60 L727.15 865.03 L723.96 867.32 L720.69 869.49 L717.36 871.54 L713.97 873.45 L710.52 875.24 L707.02 876.91 L703.49 878.45 L699.91 879.88 L696.32 881.17 L692.69 882.35 L689.06 883.41 L685.41 884.35 L681.76 885.17 L678.12 885.87 L674.48 886.45 L670.85 886.91 L667.25 887.26 L663.67 887.49 L660.12 887.61 L656.61 887.60 L653.14 887.48 L649.72 887.25 L646.34 886.89 L643.02 886.42 L639.76 885.83 L636.56 885.13 L633.43 884.30 L630.36 883.36 L627.38 882.29 L624.47 881.11 L621.64 879.80 L618.89 878.38 L616.23 876.83 L613.67 875.15 L611.19 873.36 L608.81 871.43 L606.52 869.38 L604.33 867.21 L602.25 864.90 L600.27 862.47 L598.39 859.91 L596.62 857.22 L594.95 854.40 L593.40 851.45 L591.95 848.37 L590.62 845.16 L589.40 841.82 L588.29 838.34 L587.30 834.74 L586.42 831.02 L585.66 827.16 L585.01 823.18 L584.49 819.08 L584.07 814.86 L583.78 810.52 L583.60 806.06 L583.54 801.50 L583.60 796.82 L583.78 792.05 L584.07 787.18 L584.49 782.21 L585.01 777.16 L585.66 772.04 L586.42 766.84 L587.30 761.58 L588.29 756.26 L589.40 750.90 L590.62 745.51 L591.95 740.09 L593.40 734.65 L594.95 729.21 L596.62 723.79 L598.39 718.38 L600.27 713.01 L602.25 707.68 L604.33 702.42 L606.52 697.23 L608.81 692.13 L611.19 687.13 L613.67 682.25 L616.23 677.50 L618.89 672.90 L621.64 668.47 L624.47 664.20 L627.38 660.13 L630.36 656.26 L633.43 652.60 L636.56 649.18 L639.76 645.99 L643.02 643.06 L646.34 640.39 L649.72 637.99 L653.14 635.87 L656.61 634.04 L660.12 632.51 L663.67 631.27 L667.25 630.35 L670.85 629.73 L674.48 629.42 L678.12 629.43 L681.76 629.75 L685.41 630.39 L689.06 631.33 L692.69 632.58 L696.32 634.13 L699.91 635.97 L703.49 638.11 L707.02 640.52 L710.52 643.20 L713.97 646.15 L717.36 649.35 L720.69 652.79 L723.96 656.46 L727.15 660.34 L730.26 664.42 L733.29 668.69 L736.22 673.14 L739.06 677.75 L741.79 682.50 L744.40 687.39 L746.91 692.39 L749.29 697.49 L751.54 702.69 L753.66 707.96 L755.64 713.28 L757.49 718.66 L759.19 724.07 L760.73 729.50 L762.13 734.94 L763.37 740.37 L764.45 745.79 L765.36 751.18 L766.12 756.54 L766.71 761.85 L767.13 767.11 L767.38 772.31 Z"/>
<path d="M593.87 827.50 L593.81 831.62 L593.63 835.66 L593.33 839.61 L592.90 843.46 L592.37 847.22 L591.71 850.88 L590.94 854.43 L590.05 857.88 L589.06 861.22 L587.95 864.46 L586.74 867.59 L585.42 870.60 L584.00 873.51 L582.49 876.30 L580.88 878.99 L579.18 881.56 L577.39 884.02 L575.52 886.37 L573.57 888.60 L571.54 890.73 L569.44 892.75 L567.28 894.66 L565.06 896.46 L562.78 898.15 L560.44 899.73 L558.06 901.21 L555.64 902.58 L553.17 903.85 L550.67 905.01 L548.15 906.07 L545.59 907.02 L543.02 907.88 L540.43 908.63 L537.83 909.28 L535.23 909.83 L532.62 910.28 L530.01 910.63 L527.41 910.87 L524.83 911.02 L522.25 911.07 L519.69 911.02 L517.16 910.87 L514.65 910.63 L512.17 910.28 L509.72 909.83 L507.31 909.28 L504.93 908.63 L502.60 907.88 L500.32 907.02 L498.08 906.07 L495.89 905.01 L493.76 903.85 L491.68 902.58 L489.65 901.21 L487.69 899.73 L485.79 898.15 L483.96 896.46 L482.19 894.66 L480.48 892.75 L478.85 890.73 L477.29 888.60 L475.80 886.37 L474.38 884.02 L473.04 881.56 L471.77 878.99 L470.58 876.30 L469.47 873.51 L468.44 870.60 L467.49 867.59 L466.61 864.46 L465.82 861.22 L465.11 857.88 L464.49 854.43 L463.94 850.88 L463.48 847.22 L463.10 843.46 L462.81 839.61 L462.60 835.66 L462.47 831.62 L462.43 827.50 L462.47 823.30 L462.60 819.01 L462.81 814.66 L463.10 810.25 L463.48 805.77 L463.94 801.25 L464.49 796.68 L465.11 792.08 L465.82 787.45 L466.61 782.80 L467.49 778.14 L468.44 773.49 L469.47 768.85 L470.58 764.23 L471.77 759.64 L473.04 755.10 L474.38 750.62 L475.80 746.21 L477.29 741.88 L478.85 737.64 L480.48 733.51 L482.19 729.50 L483.96 725.62 L485.79 721.89 L487.69 718.31 L489.65 714.89 L491.68 711.66 L493.76 708.62 L495.89 705.78 L498.08 703.15 L500.32 700.73 L502.60 698.55 L504.93 696.61 L507.31 694.91 L509.72 693.46 L512.17 692.26 L514.65 691.33 L517.16 690.66 L519.69 690.26 L522.25 690.12 L524.83 690.26 L527.41 690.66 L530.01 691.33 L532.62 692.26 L535.23 693.46 L537.83 694.91 L540.43 696.61 L543.02 698.55 L545.59 700.73 L548.15 703.15 L550.67 705.78 L553.17 708.62 L555.64 711.66 L558.06 714.89 L560.44 718.31 L562.78 721.89 L565.06 725.62 L567.28 729.50 L569.44 733.51 L571.54 737.64 L573.57 741.88 L575.52 746.21 L577.39 750.62 L579.18 755.10 L580.88 759.64 L582.49 764.23 L584.00 768.85 L585.42 773.49 L586.74 778.14 L587.95 782.80 L589.06 787.45 L590.05 792.08 L590.94 796.68 L591.71 801.25 L592.37 805.77 L592.90 810.25 L593.33 814.66 L593.63 819.01 L593.81 823.30 Z"/>
<path d="M674.52 724.09 L674.45 730.15 L674.24 736.11 L673.89 741.96 L673.40 747.69 L672.78 753.30 L672.01 758.78 L671.11 764.12 L670.08 769.33 L668.92 774.39 L667.63 779.31 L666.22 784.08 L664.69 788.70 L663.04 793.17 L661.27 797.49 L659.39 801.65 L657.41 805.65 L655.33 809.50 L653.15 813.19 L650.87 816.72 L648.51 820.10 L646.07 823.32 L643.55 826.38 L640.96 829.29 L638.30 832.05 L635.58 834.65 L632.80 837.10 L629.97 839.40 L627.10 841.55 L624.18 843.54 L621.23 845.39 L618.25 847.10 L615.25 848.65 L612.23 850.06 L609.20 851.33 L606.16 852.45 L603.11 853.42 L600.07 854.26 L597.03 854.95 L594.01 855.50 L591.00 855.92 L588.01 856.19 L585.05 856.32 L582.12 856.30 L579.22 856.15 L576.36 855.86 L573.54 855.43 L570.76 854.85 L568.04 854.14 L565.36 853.28 L562.75 852.28 L560.19 851.14 L557.69 849.85 L555.26 848.42 L552.89 846.84 L550.59 845.12 L548.37 843.25 L546.22 841.22 L544.15 839.05 L542.16 836.73 L540.25 834.26 L538.42 831.63 L536.67 828.85 L535.01 825.92 L533.44 822.83 L531.96 819.59 L530.56 816.19 L529.26 812.63 L528.05 808.91 L526.94 805.04 L525.91 801.01 L524.99 796.83 L524.16 792.49 L523.42 788.00 L522.78 783.36 L522.24 778.56 L521.80 773.62 L521.46 768.53 L521.21 763.31 L521.06 757.94 L521.01 752.44 L521.06 746.82 L521.21 741.07 L521.46 735.20 L521.80 729.23 L522.24 723.15 L522.78 716.98 L523.42 710.72 L524.16 704.39 L524.99 698.00 L525.91 691.55 L526.94 685.06 L528.05 678.54 L529.26 672.00 L530.56 665.47 L531.96 658.94 L533.44 652.44 L535.01 645.98 L536.67 639.58 L538.42 633.25 L540.25 627.02 L542.16 620.89 L544.15 614.89 L546.22 609.03 L548.37 603.34 L550.59 597.82 L552.89 592.49 L555.26 587.38 L557.69 582.49 L560.19 577.85 L562.75 573.47 L565.36 569.36 L568.04 565.55 L570.76 562.04 L573.54 558.84 L576.36 555.98 L579.22 553.45 L582.12 551.26 L585.05 549.44 L588.01 547.98 L591.00 546.88 L594.01 546.16 L597.03 545.81 L600.07 545.84 L603.11 546.24 L606.16 547.03 L609.20 548.18 L612.23 549.70 L615.25 551.58 L618.25 553.81 L621.23 556.40 L624.18 559.32 L627.10 562.56 L629.97 566.12 L632.80 569.98 L635.58 574.13 L638.30 578.55 L640.96 583.23 L643.55 588.15 L646.07 593.30 L648.51 598.66 L650.87 604.20 L653.15 609.93 L655.33 615.81 L657.41 621.83 L659.39 627.98 L661.27 634.23 L663.04 640.56 L664.69 646.97 L666.22 653.44 L667.63 659.95 L668.92 666.48 L670.08 673.01 L671.11 679.55 L672.01 686.06 L672.78 692.55 L673.40 698.99 L673.89 705.38 L674.24 711.69 L674.45 717.94 Z"/>
<path d="M691.70 612.33 L691.62 620.66 L691.39 628.86 L691.00 636.91 L690.45 644.80 L689.75 652.52 L688.90 660.07 L687.89 667.44 L686.74 674.62 L685.45 681.62 L684.01 688.41 L682.44 695.00 L680.73 701.39 L678.89 707.57 L676.92 713.54 L674.83 719.30 L672.62 724.85 L670.30 730.19 L667.88 735.31 L665.35 740.22 L662.72 744.91 L660.01 749.39 L657.21 753.66 L654.33 757.72 L651.38 761.56 L648.36 765.20 L645.28 768.63 L642.14 771.86 L638.96 774.88 L635.73 777.69 L632.46 780.31 L629.17 782.72 L625.85 784.94 L622.51 786.96 L619.16 788.78 L615.80 790.40 L612.44 791.84 L609.09 793.08 L605.74 794.12 L602.41 794.98 L599.10 795.65 L595.81 796.12 L592.56 796.41 L589.33 796.51 L586.15 796.41 L583.01 796.13 L579.91 795.66 L576.87 795.00 L573.88 794.15 L570.95 793.10 L568.09 791.87 L565.29 790.44 L562.55 788.82 L559.90 787.00 L557.31 784.99 L554.80 782.78 L552.38 780.37 L550.03 777.76 L547.77 774.95 L545.60 771.93 L543.51 768.71 L541.52 765.29 L539.62 761.65 L537.81 757.81 L536.10 753.76 L534.49 749.49 L532.98 745.02 L531.56 740.33 L530.25 735.43 L529.03 730.31 L527.92 724.98 L526.92 719.44 L526.01 713.68 L525.22 707.72 L524.52 701.54 L523.94 695.16 L523.46 688.57 L523.08 681.78 L522.81 674.79 L522.65 667.61 L522.60 660.25 L522.65 652.70 L522.81 644.98 L523.08 637.09 L523.46 629.05 L523.94 620.86 L524.52 612.53 L525.22 604.08 L526.01 595.51 L526.92 586.84 L527.92 578.09 L529.03 569.27 L530.25 560.40 L531.56 551.49 L532.98 542.56 L534.49 533.63 L536.10 524.73 L537.81 515.86 L539.62 507.07 L541.52 498.35 L543.51 489.75 L545.60 481.28 L547.77 472.96 L550.03 464.82 L552.38 456.89 L554.80 449.18 L557.31 441.72 L559.90 434.54 L562.55 427.66 L565.29 421.10 L568.09 414.88 L570.95 409.02 L573.88 403.55 L576.87 398.49 L579.91 393.85 L583.01 389.65 L586.15 385.90 L589.33 382.63 L592.56 379.83 L595.81 377.53 L599.10 375.73 L602.41 374.43 L605.74 373.65 L609.09 373.39 L612.44 373.64 L615.80 374.41 L619.16 375.69 L622.51 377.48 L625.85 379.77 L629.17 382.55 L632.46 385.82 L635.73 389.55 L638.96 393.74 L642.14 398.38 L645.28 403.43 L648.36 408.89 L651.38 414.73 L654.33 420.94 L657.21 427.50 L660.01 434.37 L662.72 441.55 L665.35 449.00 L667.88 456.70 L670.30 464.63 L672.62 472.76 L674.83 481.08 L676.92 489.55 L678.89 498.15 L680.73 506.86 L682.44 515.66 L684.01 524.52 L685.45 533.42 L686.74 542.35 L687.89 551.28 L688.90 560.19 L689.75 569.06 L690.45 577.88 L691.00 586.64 L691.39 595.31 L691.62 603.88 Z"/>
<path d="M676.65 752.03 L676.58 757.34 L676.37 762.53 L676.01 767.59 L675.51 772.51 L674.87 777.29 L674.09 781.93 L673.17 786.43 L672.12 790.78 L670.93 794.98 L669.61 799.03 L668.17 802.94 L666.60 806.69 L664.91 810.29 L663.11 813.74 L661.19 817.03 L659.17 820.18 L657.04 823.17 L654.81 826.01 L652.49 828.71 L650.08 831.25 L647.58 833.64 L645.01 835.89 L642.36 837.99 L639.64 839.94 L636.87 841.75 L634.03 843.41 L631.14 844.93 L628.21 846.30 L625.24 847.53 L622.23 848.63 L619.19 849.58 L616.13 850.39 L613.05 851.06 L609.95 851.59 L606.85 851.98 L603.75 852.23 L600.64 852.34 L597.55 852.32 L594.47 852.16 L591.40 851.85 L588.36 851.41 L585.34 850.83 L582.35 850.11 L579.40 849.25 L576.48 848.25 L573.61 847.11 L570.79 845.83 L568.01 844.40 L565.29 842.83 L562.63 841.12 L560.02 839.26 L557.48 837.25 L555.00 835.10 L552.60 832.80 L550.26 830.36 L548.00 827.76 L545.81 825.01 L543.71 822.12 L541.68 819.07 L539.74 815.87 L537.88 812.52 L536.10 809.02 L534.42 805.36 L532.82 801.56 L531.31 797.60 L529.89 793.49 L528.57 789.24 L527.34 784.84 L526.21 780.29 L525.17 775.60 L524.23 770.76 L523.38 765.79 L522.64 760.69 L521.99 755.46 L521.44 750.10 L520.99 744.62 L520.64 739.02 L520.39 733.32 L520.24 727.51 L520.19 721.61 L520.24 715.63 L520.39 709.56 L520.64 703.43 L520.99 697.25 L521.44 691.01 L521.99 684.74 L522.64 678.45 L523.38 672.15 L524.23 665.84 L525.17 659.56 L526.21 653.31 L527.34 647.10 L528.57 640.95 L529.89 634.88 L531.31 628.90 L532.82 623.03 L534.42 617.28 L536.10 611.68 L537.88 606.23 L539.74 600.96 L541.68 595.88 L543.71 591.00 L545.81 586.35 L548.00 581.93 L550.26 577.77 L552.60 573.87 L555.00 570.25 L557.48 566.93 L560.02 563.91 L562.63 561.20 L565.29 558.82 L568.01 556.77 L570.79 555.06 L573.61 553.70 L576.48 552.69 L579.40 552.04 L582.35 551.74 L585.34 551.80 L588.36 552.23 L591.40 553.01 L594.47 554.14 L597.55 555.63 L600.64 557.46 L603.75 559.63 L606.85 562.13 L609.95 564.95 L613.05 568.08 L616.13 571.51 L619.19 575.23 L622.23 579.23 L625.24 583.48 L628.21 587.99 L631.14 592.72 L634.03 597.67 L636.87 602.82 L639.64 608.16 L642.36 613.66 L645.01 619.32 L647.58 625.11 L650.08 631.02 L652.49 637.04 L654.81 643.14 L657.04 649.31 L659.17 655.54 L661.19 661.80 L663.11 668.10 L664.91 674.40 L666.60 680.70 L668.17 686.99 L669.61 693.25 L670.93 699.46 L672.12 705.63 L673.17 711.74 L674.09 717.78 L674.87 723.73 L675.51 729.60 L676.01 735.37 L676.37 741.03 L676.58 746.59 Z"/>
<path d="M761.97 726.48 L761.88 732.34 L761.62 738.10 L761.19 743.74 L760.58 749.27 L759.81 754.66 L758.86 759.92 L757.75 765.05 L756.48 770.03 L755.04 774.88 L753.45 779.58 L751.70 784.13 L749.80 788.52 L747.76 792.77 L745.58 796.87 L743.26 800.81 L740.81 804.59 L738.24 808.22 L735.54 811.70 L732.74 815.02 L729.82 818.19 L726.81 821.20 L723.70 824.06 L720.50 826.76 L717.22 829.32 L713.87 831.72 L710.45 833.97 L706.96 836.07 L703.43 838.02 L699.84 839.82 L696.21 841.48 L692.55 842.99 L688.86 844.35 L685.15 845.57 L681.42 846.64 L677.69 847.58 L673.95 848.36 L670.22 849.01 L666.49 849.51 L662.79 849.88 L659.10 850.10 L655.44 850.18 L651.81 850.12 L648.22 849.92 L644.68 849.57 L641.18 849.09 L637.73 848.46 L634.34 847.69 L631.01 846.78 L627.75 845.73 L624.55 844.53 L621.43 843.19 L618.38 841.70 L615.42 840.06 L612.53 838.28 L609.74 836.35 L607.03 834.27 L604.41 832.04 L601.89 829.66 L599.47 827.13 L597.14 824.45 L594.92 821.61 L592.79 818.62 L590.78 815.47 L588.87 812.17 L587.07 808.72 L585.37 805.11 L583.79 801.35 L582.33 797.43 L580.97 793.35 L579.73 789.13 L578.61 784.75 L577.60 780.22 L576.71 775.54 L575.93 770.72 L575.28 765.75 L574.74 760.65 L574.32 755.40 L574.02 750.03 L573.84 744.52 L573.78 738.90 L573.84 733.16 L574.02 727.30 L574.32 721.35 L574.74 715.30 L575.28 709.16 L575.93 702.95 L576.71 696.67 L577.60 690.33 L578.61 683.95 L579.73 677.53 L580.97 671.09 L582.33 664.65 L583.79 658.21 L585.37 651.79 L587.07 645.40 L588.87 639.06 L590.78 632.79 L592.79 626.60 L594.92 620.51 L597.14 614.53 L599.47 608.69 L601.89 602.99 L604.41 597.46 L607.03 592.11 L609.74 586.96 L612.53 582.02 L615.42 577.32 L618.38 572.86 L621.43 568.66 L624.55 564.74 L627.75 561.11 L631.01 557.78 L634.34 554.77 L637.73 552.08 L641.18 549.72 L644.68 547.71 L648.22 546.05 L651.81 544.74 L655.44 543.80 L659.10 543.22 L662.79 543.01 L666.49 543.17 L670.22 543.70 L673.95 544.59 L677.69 545.84 L681.42 547.46 L685.15 549.42 L688.86 551.73 L692.55 554.37 L696.21 557.34 L699.84 560.63 L703.43 564.22 L706.96 568.10 L710.45 572.26 L713.87 576.68 L717.22 581.35 L720.50 586.26 L723.70 591.38 L726.81 596.70 L729.82 602.21 L732.74 607.88 L735.54 613.71 L738.24 619.67 L740.81 625.75 L743.26 631.92 L745.58 638.18 L747.76 644.51 L749.80 650.89 L751.70 657.31 L753.45 663.75 L755.04 670.19 L756.48 676.63 L757.75 683.06 L758.86 689.44 L759.81 695.79 L760.58 702.08 L761.19 708.30 L761.62 714.45 L761.88 720.51 Z"/>
<path d="M843.02 829.84 L842.92 833.26 L842.62 836.64 L842.13 839.97 L841.45 843.24 L840.57 846.46 L839.50 849.62 L838.24 852.71 L836.80 855.73 L835.18 858.69 L833.37 861.56 L831.40 864.37 L829.25 867.10 L826.94 869.74 L824.47 872.31 L821.84 874.79 L819.07 877.19 L816.16 879.51 L813.11 881.73 L809.94 883.88 L806.64 885.93 L803.23 887.90 L799.71 889.78 L796.09 891.57 L792.38 893.28 L788.59 894.89 L784.72 896.42 L780.77 897.86 L776.77 899.21 L772.71 900.48 L768.61 901.65 L764.46 902.74 L760.28 903.75 L756.08 904.66 L751.87 905.49 L747.64 906.23 L743.41 906.89 L739.18 907.46 L734.97 907.95 L730.77 908.34 L726.60 908.66 L722.46 908.89 L718.35 909.03 L714.29 909.09 L710.27 909.06 L706.31 908.95 L702.41 908.76 L698.57 908.48 L694.80 908.11 L691.11 907.66 L687.49 907.12 L683.95 906.49 L680.51 905.78 L677.15 904.99 L673.88 904.11 L670.72 903.14 L667.65 902.08 L664.69 900.94 L661.83 899.71 L659.09 898.39 L656.45 896.98 L653.93 895.49 L651.53 893.91 L649.25 892.24 L647.08 890.48 L645.04 888.63 L643.13 886.70 L641.34 884.67 L639.67 882.56 L638.14 880.37 L636.74 878.09 L635.46 875.72 L634.32 873.27 L633.31 870.73 L632.43 868.12 L631.69 865.42 L631.08 862.65 L630.61 859.80 L630.27 856.87 L630.07 853.87 L630.00 850.81 L630.07 847.68 L630.27 844.48 L630.61 841.23 L631.08 837.92 L631.69 834.56 L632.43 831.16 L633.31 827.71 L634.32 824.23 L635.46 820.72 L636.74 817.18 L638.14 813.63 L639.67 810.06 L641.34 806.49 L643.13 802.93 L645.04 799.37 L647.08 795.83 L649.25 792.32 L651.53 788.83 L653.93 785.40 L656.45 782.01 L659.09 778.68 L661.83 775.41 L664.69 772.23 L667.65 769.13 L670.72 766.12 L673.88 763.21 L677.15 760.42 L680.51 757.74 L683.95 755.19 L687.49 752.78 L691.11 750.50 L694.80 748.38 L698.57 746.41 L702.41 744.61 L706.31 742.98 L710.27 741.52 L714.29 740.24 L718.35 739.14 L722.46 738.23 L726.60 737.51 L730.77 736.98 L734.97 736.65 L739.18 736.52 L743.41 736.58 L747.64 736.83 L751.87 737.29 L756.08 737.93 L760.28 738.77 L764.46 739.79 L768.61 741.01 L772.71 742.40 L776.77 743.97 L780.77 745.70 L784.72 747.61 L788.59 749.67 L792.38 751.89 L796.09 754.25 L799.71 756.75 L803.23 759.38 L806.64 762.13 L809.94 764.99 L813.11 767.96 L816.16 771.03 L819.07 774.18 L821.84 777.42 L824.47 780.72 L826.94 784.09 L829.25 787.51 L831.40 790.98 L833.37 794.48 L835.18 798.01 L836.80 801.56 L838.24 805.13 L839.50 808.70 L840.57 812.27 L841.45 815.83 L842.13 819.37 L842.62 822.89 L842.92 826.38 Z"/>
<path d="M889.97 857.86 L889.87 860.90 L889.58 863.90 L889.09 866.87 L888.41 869.79 L887.54 872.66 L886.48 875.48 L885.23 878.24 L883.80 880.95 L882.19 883.60 L880.40 886.18 L878.44 888.70 L876.31 891.15 L874.01 893.54 L871.56 895.85 L868.95 898.09 L866.20 900.26 L863.31 902.35 L860.28 904.37 L857.12 906.31 L853.84 908.18 L850.44 909.97 L846.94 911.69 L843.33 913.33 L839.63 914.89 L835.85 916.37 L831.99 917.78 L828.05 919.11 L824.05 920.36 L820.00 921.54 L815.90 922.64 L811.75 923.66 L807.58 924.61 L803.37 925.49 L799.15 926.28 L794.91 927.00 L790.67 927.65 L786.43 928.22 L782.21 928.72 L777.99 929.15 L773.80 929.50 L769.64 929.77 L765.51 929.97 L761.42 930.10 L757.38 930.16 L753.39 930.14 L749.46 930.05 L745.59 929.88 L741.78 929.64 L738.05 929.33 L734.40 928.94 L730.83 928.48 L727.34 927.94 L723.95 927.33 L720.64 926.65 L717.44 925.89 L714.33 925.05 L711.33 924.14 L708.44 923.15 L705.66 922.09 L702.98 920.95 L700.43 919.74 L697.99 918.45 L695.67 917.08 L693.47 915.63 L691.40 914.11 L689.45 912.51 L687.63 910.83 L685.94 909.08 L684.38 907.25 L682.95 905.34 L681.66 903.36 L680.50 901.30 L679.47 899.17 L678.58 896.96 L677.82 894.69 L677.20 892.34 L676.72 889.92 L676.37 887.43 L676.17 884.88 L676.10 882.26 L676.17 879.59 L676.37 876.85 L676.72 874.06 L677.20 871.21 L677.82 868.31 L678.58 865.37 L679.47 862.39 L680.50 859.37 L681.66 856.31 L682.95 853.23 L684.38 850.12 L685.94 847.00 L687.63 843.86 L689.45 840.72 L691.40 837.58 L693.47 834.45 L695.67 831.33 L697.99 828.23 L700.43 825.15 L702.98 822.12 L705.66 819.12 L708.44 816.18 L711.33 813.29 L714.33 810.47 L717.44 807.73 L720.64 805.06 L723.95 802.49 L727.34 800.01 L730.83 797.63 L734.40 795.37 L738.05 793.23 L741.78 791.21 L745.59 789.32 L749.46 787.57 L753.39 785.96 L757.38 784.50 L761.42 783.20 L765.51 782.06 L769.64 781.07 L773.80 780.26 L777.99 779.61 L782.21 779.13 L786.43 778.83 L790.67 778.70 L794.91 778.74 L799.15 778.96 L803.37 779.35 L807.58 779.92 L811.75 780.65 L815.90 781.55 L820.00 782.62 L824.05 783.84 L828.05 785.22 L831.99 786.76 L835.85 788.44 L839.63 790.26 L843.33 792.21 L846.94 794.30 L850.44 796.50 L853.84 798.82 L857.12 801.25 L860.28 803.78 L863.31 806.40 L866.20 809.11 L868.95 811.89 L871.56 814.75 L874.01 817.66 L876.31 820.63 L878.44 823.65 L880.40 826.71 L882.19 829.79 L883.80 832.90 L885.23 836.03 L886.48 839.17 L887.54 842.31 L888.41 845.45 L889.09 848.58 L889.58 851.70 L889.87 854.79 Z"/>
<path d="M958.28 803.56 L958.17 807.52 L957.84 811.44 L957.28 815.32 L956.51 819.14 L955.52 822.90 L954.32 826.59 L952.90 830.22 L951.27 833.77 L949.44 837.25 L947.41 840.65 L945.18 843.96 L942.76 847.19 L940.16 850.33 L937.37 853.38 L934.41 856.33 L931.29 859.20 L928.00 861.97 L924.57 864.64 L920.98 867.21 L917.26 869.69 L913.41 872.07 L909.44 874.35 L905.35 876.53 L901.16 878.61 L896.87 880.59 L892.50 882.47 L888.04 884.25 L883.51 885.93 L878.92 887.51 L874.28 889.00 L869.59 890.38 L864.86 891.67 L860.11 892.86 L855.33 893.95 L850.55 894.94 L845.75 895.84 L840.97 896.64 L836.19 897.35 L831.43 897.95 L826.70 898.47 L822.00 898.88 L817.34 899.21 L812.73 899.43 L808.17 899.57 L803.68 899.60 L799.24 899.55 L794.88 899.39 L790.60 899.15 L786.40 898.80 L782.29 898.37 L778.27 897.83 L774.34 897.20 L770.52 896.48 L766.81 895.66 L763.20 894.74 L759.71 893.73 L756.34 892.61 L753.09 891.40 L749.96 890.10 L746.96 888.69 L744.09 887.19 L741.35 885.58 L738.74 883.88 L736.28 882.08 L733.95 880.18 L731.77 878.17 L729.72 876.07 L727.83 873.87 L726.08 871.57 L724.47 869.17 L723.02 866.68 L721.72 864.08 L720.56 861.39 L719.56 858.60 L718.72 855.71 L718.02 852.74 L717.48 849.67 L717.09 846.51 L716.86 843.26 L716.78 839.93 L716.86 836.52 L717.09 833.02 L717.48 829.45 L718.02 825.81 L718.72 822.10 L719.56 818.33 L720.56 814.50 L721.72 810.62 L723.02 806.68 L724.47 802.71 L726.08 798.70 L727.83 794.67 L729.72 790.61 L731.77 786.54 L733.95 782.46 L736.28 778.39 L738.74 774.33 L741.35 770.29 L744.09 766.27 L746.96 762.30 L749.96 758.38 L753.09 754.51 L756.34 750.71 L759.71 746.99 L763.20 743.36 L766.81 739.83 L770.52 736.41 L774.34 733.10 L778.27 729.93 L782.29 726.89 L786.40 724.00 L790.60 721.27 L794.88 718.70 L799.24 716.31 L803.68 714.10 L808.17 712.08 L812.73 710.25 L817.34 708.63 L822.00 707.21 L826.70 706.01 L831.43 705.03 L836.19 704.26 L840.97 703.72 L845.75 703.41 L850.55 703.32 L855.33 703.46 L860.11 703.82 L864.86 704.41 L869.59 705.22 L874.28 706.25 L878.92 707.50 L883.51 708.96 L888.04 710.62 L892.50 712.49 L896.87 714.55 L901.16 716.80 L905.35 719.23 L909.44 721.83 L913.41 724.60 L917.26 727.52 L920.98 730.59 L924.57 733.79 L928.00 737.12 L931.29 740.57 L934.41 744.12 L937.37 747.78 L940.16 751.51 L942.76 755.32 L945.18 759.20 L947.41 763.14 L949.44 767.12 L951.27 771.14 L952.90 775.19 L954.32 779.25 L955.52 783.33 L956.51 787.40 L957.28 791.47 L957.84 795.53 L958.17 799.56 Z"/>
<path d="M842.02 788.41 L841.92 792.60 L841.62 796.75 L841.13 800.85 L840.45 804.88 L839.57 808.86 L838.50 812.76 L837.24 816.59 L835.80 820.33 L834.17 824.00 L832.37 827.58 L830.39 831.07 L828.25 834.47 L825.94 837.78 L823.47 840.99 L820.84 844.10 L818.07 847.11 L815.16 850.01 L812.11 852.82 L808.94 855.52 L805.64 858.12 L802.23 860.61 L798.71 863.00 L795.09 865.28 L791.38 867.46 L787.58 869.53 L783.71 871.49 L779.77 873.35 L775.77 875.10 L771.71 876.74 L767.60 878.29 L763.46 879.72 L759.28 881.05 L755.08 882.28 L750.86 883.40 L746.64 884.42 L742.41 885.34 L738.18 886.15 L733.97 886.87 L729.77 887.48 L725.60 887.98 L721.46 888.39 L717.35 888.69 L713.29 888.90 L709.28 889.00 L705.32 889.00 L701.41 888.90 L697.58 888.70 L693.81 888.39 L690.11 887.99 L686.50 887.48 L682.96 886.87 L679.52 886.16 L676.16 885.35 L672.89 884.43 L669.73 883.42 L666.66 882.29 L663.70 881.07 L660.85 879.74 L658.10 878.30 L655.47 876.76 L652.95 875.12 L650.55 873.37 L648.27 871.51 L646.11 869.55 L644.07 867.48 L642.15 865.31 L640.36 863.03 L638.70 860.64 L637.17 858.15 L635.76 855.55 L634.49 852.85 L633.35 850.04 L632.34 847.14 L631.46 844.13 L630.72 841.02 L630.11 837.81 L629.64 834.51 L629.30 831.11 L629.10 827.62 L629.03 824.04 L629.10 820.37 L629.30 816.63 L629.64 812.80 L630.11 808.90 L630.72 804.93 L631.46 800.89 L632.34 796.80 L633.35 792.65 L634.49 788.45 L635.76 784.21 L637.17 779.94 L638.70 775.65 L640.36 771.33 L642.15 767.00 L644.07 762.67 L646.11 758.35 L648.27 754.05 L650.55 749.77 L652.95 745.52 L655.47 741.32 L658.10 737.18 L660.85 733.11 L663.70 729.11 L666.66 725.20 L669.73 721.39 L672.89 717.68 L676.16 714.10 L679.52 710.65 L682.96 707.34 L686.50 704.18 L690.11 701.18 L693.81 698.35 L697.58 695.69 L701.41 693.23 L705.32 690.97 L709.28 688.90 L713.29 687.05 L717.35 685.42 L721.46 684.00 L725.60 682.82 L729.77 681.87 L733.97 681.15 L738.18 680.67 L742.41 680.43 L746.64 680.42 L750.86 680.66 L755.08 681.14 L759.28 681.86 L763.46 682.81 L767.60 683.99 L771.71 685.40 L775.77 687.03 L779.77 688.88 L783.71 690.94 L787.58 693.21 L791.38 695.67 L795.09 698.32 L798.71 701.14 L802.23 704.14 L805.64 707.30 L808.94 710.61 L812.11 714.06 L815.16 717.64 L818.07 721.35 L820.84 725.16 L823.47 729.07 L825.94 733.06 L828.25 737.14 L830.39 741.28 L832.37 745.48 L834.17 749.72 L835.80 754.00 L837.24 758.31 L838.50 762.63 L839.57 766.96 L840.45 771.28 L841.13 775.60 L841.62 779.90 L841.92 784.17 Z"/>
<path d="M758.34 897.57 L758.23 899.52 L757.93 901.45 L757.42 903.35 L756.71 905.23 L755.81 907.07 L754.70 908.89 L753.41 910.67 L751.92 912.41 L750.24 914.12 L748.38 915.79 L746.35 917.41 L744.14 918.99 L741.76 920.53 L739.22 922.03 L736.53 923.48 L733.68 924.88 L730.69 926.23 L727.57 927.54 L724.32 928.79 L720.94 930.00 L717.45 931.15 L713.86 932.25 L710.17 933.31 L706.38 934.31 L702.52 935.26 L698.58 936.15 L694.57 937.00 L690.51 937.79 L686.40 938.53 L682.24 939.22 L678.05 939.85 L673.83 940.44 L669.59 940.97 L665.34 941.44 L661.09 941.87 L656.84 942.24 L652.60 942.56 L648.37 942.82 L644.17 943.04 L640.00 943.20 L635.86 943.30 L631.77 943.36 L627.72 943.36 L623.73 943.31 L619.80 943.21 L615.93 943.06 L612.12 942.85 L608.39 942.59 L604.74 942.27 L601.17 941.91 L597.69 941.49 L594.29 941.02 L590.99 940.49 L587.78 939.92 L584.67 939.29 L581.67 938.60 L578.77 937.87 L575.97 937.08 L573.29 936.24 L570.72 935.35 L568.26 934.41 L565.92 933.41 L563.70 932.36 L561.59 931.26 L559.61 930.12 L557.75 928.92 L556.01 927.66 L554.40 926.37 L552.91 925.02 L551.55 923.62 L550.32 922.18 L549.21 920.69 L548.23 919.15 L547.39 917.57 L546.67 915.95 L546.08 914.29 L545.62 912.59 L545.30 910.85 L545.10 909.07 L545.03 907.26 L545.10 905.42 L545.30 903.54 L545.62 901.64 L546.08 899.72 L546.67 897.77 L547.39 895.80 L548.23 893.82 L549.21 891.82 L550.32 889.82 L551.55 887.80 L552.91 885.79 L554.40 883.77 L556.01 881.76 L557.75 879.76 L559.61 877.78 L561.59 875.81 L563.70 873.86 L565.92 871.94 L568.26 870.04 L570.72 868.19 L573.29 866.37 L575.97 864.60 L578.77 862.87 L581.67 861.20 L584.67 859.58 L587.78 858.03 L590.99 856.54 L594.29 855.13 L597.69 853.78 L601.17 852.52 L604.74 851.33 L608.39 850.24 L612.12 849.23 L615.93 848.31 L619.80 847.48 L623.73 846.75 L627.72 846.13 L631.77 845.60 L635.86 845.17 L640.00 844.85 L644.17 844.63 L648.37 844.52 L652.60 844.52 L656.84 844.62 L661.09 844.82 L665.34 845.13 L669.59 845.55 L673.83 846.07 L678.05 846.69 L682.24 847.40 L686.40 848.22 L690.51 849.13 L694.57 850.13 L698.58 851.22 L702.52 852.39 L706.38 853.65 L710.17 854.99 L713.86 856.40 L717.45 857.88 L720.94 859.42 L724.32 861.03 L727.57 862.70 L730.69 864.42 L733.68 866.19 L736.53 868.00 L739.22 869.85 L741.76 871.74 L744.14 873.66 L746.35 875.61 L748.38 877.58 L750.24 879.56 L751.92 881.56 L753.41 883.57 L754.70 885.58 L755.81 887.60 L756.71 889.61 L757.42 891.62 L757.93 893.62 L758.23 895.60 Z"/>
<path d="M654.79 891.25 L654.70 893.29 L654.45 895.30 L654.03 897.29 L653.45 899.25 L652.70 901.18 L651.78 903.07 L650.71 904.93 L649.48 906.75 L648.09 908.53 L646.55 910.27 L644.87 911.97 L643.04 913.62 L641.08 915.23 L638.97 916.79 L636.75 918.30 L634.39 919.76 L631.92 921.18 L629.34 922.54 L626.65 923.85 L623.85 925.11 L620.97 926.31 L618.00 927.47 L614.94 928.57 L611.81 929.61 L608.62 930.60 L605.36 931.54 L602.04 932.42 L598.68 933.25 L595.28 934.02 L591.84 934.74 L588.37 935.40 L584.88 936.01 L581.38 936.56 L577.86 937.06 L574.34 937.50 L570.83 937.89 L567.32 938.22 L563.83 938.50 L560.35 938.72 L556.90 938.89 L553.48 939.00 L550.09 939.06 L546.75 939.06 L543.44 939.01 L540.19 938.90 L536.99 938.74 L533.84 938.53 L530.76 938.25 L527.73 937.93 L524.78 937.54 L521.90 937.11 L519.09 936.62 L516.36 936.07 L513.70 935.47 L511.13 934.81 L508.65 934.10 L506.25 933.33 L503.94 932.51 L501.72 931.63 L499.59 930.70 L497.56 929.71 L495.62 928.67 L493.78 927.58 L492.04 926.43 L490.40 925.23 L488.86 923.98 L487.43 922.67 L486.09 921.32 L484.86 919.91 L483.74 918.45 L482.71 916.94 L481.80 915.39 L480.99 913.79 L480.29 912.14 L479.70 910.45 L479.21 908.71 L478.83 906.93 L478.56 905.12 L478.40 903.26 L478.34 901.37 L478.40 899.45 L478.56 897.49 L478.83 895.51 L479.21 893.49 L479.70 891.46 L480.29 889.41 L480.99 887.34 L481.80 885.25 L482.71 883.16 L483.74 881.05 L484.86 878.95 L486.09 876.85 L487.43 874.75 L488.86 872.66 L490.40 870.59 L492.04 868.53 L493.78 866.50 L495.62 864.49 L497.56 862.51 L499.59 860.57 L501.72 858.68 L503.94 856.83 L506.25 855.02 L508.65 853.28 L511.13 851.59 L513.70 849.97 L516.36 848.42 L519.09 846.94 L521.90 845.54 L524.78 844.21 L527.73 842.98 L530.76 841.83 L533.84 840.78 L536.99 839.82 L540.19 838.96 L543.44 838.20 L546.75 837.54 L550.09 836.99 L553.48 836.54 L556.90 836.21 L560.35 835.98 L563.83 835.87 L567.32 835.86 L570.83 835.97 L574.34 836.18 L577.86 836.51 L581.38 836.94 L584.88 837.48 L588.37 838.13 L591.84 838.88 L595.28 839.73 L598.68 840.68 L602.04 841.72 L605.36 842.86 L608.62 844.09 L611.81 845.40 L614.94 846.79 L618.00 848.26 L620.97 849.81 L623.85 851.42 L626.65 853.10 L629.34 854.84 L631.92 856.64 L634.39 858.49 L636.75 860.38 L638.97 862.31 L641.08 864.29 L643.04 866.29 L644.87 868.32 L646.55 870.38 L648.09 872.45 L649.48 874.54 L650.71 876.63 L651.78 878.74 L652.70 880.84 L653.45 882.94 L654.03 885.04 L654.45 887.13 L654.70 889.20 Z"/>
<path d="M733.10 900.68 L733.01 902.59 L732.71 904.47 L732.23 906.33 L731.55 908.17 L730.68 909.98 L729.62 911.75 L728.38 913.49 L726.96 915.20 L725.35 916.87 L723.57 918.50 L721.62 920.09 L719.50 921.64 L717.23 923.14 L714.79 924.60 L712.21 926.02 L709.49 927.39 L706.62 928.72 L703.63 929.99 L700.51 931.22 L697.28 932.40 L693.94 933.53 L690.50 934.61 L686.96 935.64 L683.34 936.62 L679.64 937.55 L675.86 938.43 L672.03 939.25 L668.13 940.03 L664.19 940.75 L660.21 941.42 L656.20 942.05 L652.15 942.61 L648.10 943.13 L644.03 943.60 L639.95 944.01 L635.88 944.38 L631.82 944.69 L627.77 944.95 L623.75 945.16 L619.75 945.31 L615.79 945.42 L611.87 945.47 L607.99 945.48 L604.17 945.43 L600.40 945.33 L596.69 945.18 L593.05 944.97 L589.47 944.72 L585.98 944.41 L582.56 944.05 L579.22 943.64 L575.97 943.18 L572.80 942.67 L569.73 942.11 L566.75 941.49 L563.87 940.82 L561.10 940.10 L558.42 939.33 L555.85 938.51 L553.39 937.64 L551.03 936.72 L548.79 935.74 L546.66 934.72 L544.65 933.64 L542.75 932.52 L540.96 931.34 L539.30 930.12 L537.75 928.85 L536.33 927.53 L535.03 926.16 L533.84 924.75 L532.78 923.29 L531.85 921.79 L531.04 920.25 L530.35 918.66 L529.79 917.03 L529.35 915.37 L529.03 913.67 L528.85 911.93 L528.78 910.16 L528.85 908.35 L529.03 906.52 L529.35 904.66 L529.79 902.78 L530.35 900.87 L531.04 898.95 L531.85 897.01 L532.78 895.05 L533.84 893.09 L535.03 891.12 L536.33 889.15 L537.75 887.18 L539.30 885.21 L540.96 883.26 L542.75 881.31 L544.65 879.38 L546.66 877.48 L548.79 875.60 L551.03 873.75 L553.39 871.93 L555.85 870.15 L558.42 868.42 L561.10 866.73 L563.87 865.09 L566.75 863.51 L569.73 861.99 L572.80 860.54 L575.97 859.15 L579.22 857.84 L582.56 856.60 L585.98 855.44 L589.47 854.37 L593.05 853.38 L596.69 852.48 L600.40 851.67 L604.17 850.96 L607.99 850.35 L611.87 849.83 L615.79 849.41 L619.75 849.10 L623.75 848.89 L627.77 848.78 L631.82 848.77 L635.88 848.87 L639.95 849.07 L644.03 849.38 L648.10 849.78 L652.15 850.29 L656.20 850.90 L660.21 851.60 L664.19 852.40 L668.13 853.29 L672.03 854.26 L675.86 855.33 L679.64 856.48 L683.34 857.71 L686.96 859.02 L690.50 860.40 L693.94 861.84 L697.28 863.36 L700.51 864.93 L703.63 866.56 L706.62 868.24 L709.49 869.97 L712.21 871.75 L714.79 873.56 L717.23 875.41 L719.50 877.29 L721.62 879.19 L723.57 881.12 L725.35 883.06 L726.96 885.01 L728.38 886.98 L729.62 888.95 L730.68 890.92 L731.55 892.89 L732.23 894.85 L732.71 896.81 L733.01 898.75 Z"/>
<path d="M650.20 926.08 L650.12 928.08 L649.85 930.03 L649.42 931.94 L648.81 933.79 L648.04 935.60 L647.09 937.35 L645.98 939.05 L644.71 940.70 L643.27 942.29 L641.68 943.83 L639.94 945.31 L638.04 946.74 L636.01 948.11 L633.84 949.43 L631.53 950.69 L629.10 951.89 L626.54 953.03 L623.87 954.12 L621.09 955.15 L618.21 956.13 L615.23 957.05 L612.16 957.91 L609.01 958.72 L605.78 959.48 L602.48 960.17 L599.12 960.81 L595.71 961.40 L592.25 961.94 L588.74 962.41 L585.20 962.84 L581.63 963.21 L578.04 963.53 L574.44 963.79 L570.82 964.00 L567.21 964.16 L563.59 964.26 L559.99 964.31 L556.41 964.31 L552.84 964.25 L549.30 964.14 L545.79 963.98 L542.32 963.77 L538.89 963.50 L535.51 963.17 L532.18 962.80 L528.90 962.37 L525.68 961.88 L522.53 961.35 L519.44 960.75 L516.42 960.10 L513.48 959.40 L510.61 958.64 L507.82 957.83 L505.12 956.96 L502.50 956.03 L499.96 955.05 L497.51 954.01 L495.16 952.92 L492.90 951.77 L490.73 950.56 L488.66 949.30 L486.69 947.98 L484.82 946.60 L483.05 945.17 L481.38 943.68 L479.82 942.13 L478.36 940.53 L477.00 938.88 L475.75 937.17 L474.60 935.42 L473.57 933.61 L472.64 931.74 L471.82 929.84 L471.11 927.88 L470.50 925.88 L470.01 923.83 L469.62 921.75 L469.35 919.63 L469.18 917.47 L469.13 915.27 L469.18 913.05 L469.35 910.80 L469.62 908.53 L470.01 906.23 L470.50 903.92 L471.11 901.61 L471.82 899.28 L472.64 896.95 L473.57 894.62 L474.60 892.30 L475.75 890.00 L477.00 887.71 L478.36 885.45 L479.82 883.21 L481.38 881.01 L483.05 878.85 L484.82 876.74 L486.69 874.68 L488.66 872.68 L490.73 870.74 L492.90 868.88 L495.16 867.08 L497.51 865.38 L499.96 863.75 L502.50 862.22 L505.12 860.79 L507.82 859.46 L510.61 858.23 L513.48 857.12 L516.42 856.12 L519.44 855.24 L522.53 854.47 L525.68 853.84 L528.90 853.33 L532.18 852.94 L535.51 852.69 L538.89 852.56 L542.32 852.57 L545.79 852.71 L549.30 852.98 L552.84 853.37 L556.41 853.90 L559.99 854.55 L563.59 855.32 L567.21 856.21 L570.82 857.23 L574.44 858.35 L578.04 859.59 L581.63 860.93 L585.20 862.37 L588.74 863.91 L592.25 865.55 L595.71 867.26 L599.12 869.06 L602.48 870.94 L605.78 872.88 L609.01 874.89 L612.16 876.95 L615.23 879.07 L618.21 881.23 L621.09 883.44 L623.87 885.68 L626.54 887.94 L629.10 890.23 L631.53 892.54 L633.84 894.86 L636.01 897.19 L638.04 899.51 L639.94 901.84 L641.68 904.16 L643.27 906.47 L644.71 908.76 L645.98 911.03 L647.09 913.28 L648.04 915.50 L648.81 917.69 L649.42 919.84 L649.85 921.96 L650.12 924.04 Z"/>
<path d="M651.84 941.50 L651.75 943.41 L651.49 945.29 L651.05 947.11 L650.45 948.88 L649.67 950.60 L648.72 952.27 L647.60 953.89 L646.32 955.45 L644.88 956.96 L643.29 958.41 L641.54 959.81 L639.64 961.16 L637.60 962.45 L635.42 963.68 L633.11 964.86 L630.66 965.98 L628.10 967.06 L625.42 968.07 L622.63 969.03 L619.74 969.94 L616.75 970.80 L613.67 971.60 L610.51 972.35 L607.27 973.05 L603.96 973.69 L600.59 974.28 L597.16 974.83 L593.69 975.32 L590.17 975.76 L586.62 976.15 L583.04 976.49 L579.44 976.79 L575.82 977.03 L572.19 977.22 L568.57 977.37 L564.94 977.46 L561.33 977.51 L557.73 977.51 L554.15 977.45 L550.60 977.35 L547.08 977.21 L543.60 977.01 L540.16 976.76 L536.76 976.46 L533.42 976.12 L530.13 975.72 L526.91 975.27 L523.74 974.77 L520.64 974.23 L517.62 973.63 L514.66 972.98 L511.78 972.27 L508.99 971.52 L506.27 970.71 L503.64 969.85 L501.10 968.94 L498.64 967.97 L496.28 966.95 L494.01 965.87 L491.84 964.74 L489.76 963.56 L487.78 962.32 L485.91 961.02 L484.13 959.67 L482.46 958.27 L480.89 956.81 L479.42 955.29 L478.06 953.73 L476.80 952.10 L475.66 950.43 L474.62 948.70 L473.68 946.93 L472.86 945.10 L472.15 943.22 L471.54 941.30 L471.04 939.33 L470.66 937.32 L470.38 935.26 L470.22 933.17 L470.16 931.04 L470.22 928.88 L470.38 926.69 L470.66 924.47 L471.04 922.23 L471.54 919.96 L472.15 917.69 L472.86 915.40 L473.68 913.10 L474.62 910.80 L475.66 908.51 L476.80 906.23 L478.06 903.96 L479.42 901.71 L480.89 899.48 L482.46 897.29 L484.13 895.13 L485.91 893.02 L487.78 890.95 L489.76 888.95 L491.84 887.00 L494.01 885.12 L496.28 883.32 L498.64 881.60 L501.10 879.96 L503.64 878.42 L506.27 876.97 L508.99 875.62 L511.78 874.38 L514.66 873.25 L517.62 872.24 L520.64 871.34 L523.74 870.57 L526.91 869.92 L530.13 869.40 L533.42 869.01 L536.76 868.75 L540.16 868.63 L543.60 868.64 L547.08 868.77 L550.60 869.05 L554.15 869.45 L557.73 869.98 L561.33 870.64 L564.94 871.43 L568.57 872.33 L572.19 873.36 L575.82 874.50 L579.44 875.75 L583.04 877.11 L586.62 878.57 L590.17 880.12 L593.69 881.77 L597.16 883.50 L600.59 885.31 L603.96 887.20 L607.27 889.15 L610.51 891.16 L613.67 893.23 L616.75 895.35 L619.74 897.51 L622.63 899.70 L625.42 901.93 L628.10 904.19 L630.66 906.46 L633.11 908.74 L635.42 911.04 L637.60 913.33 L639.64 915.63 L641.54 917.92 L643.29 920.19 L644.88 922.45 L646.32 924.69 L647.60 926.91 L648.72 929.10 L649.67 931.26 L650.45 933.39 L651.05 935.47 L651.49 937.52 L651.75 939.53 Z"/>
<path d="M697.15 930.13 L697.06 932.06 L696.79 933.96 L696.33 935.84 L695.70 937.68 L694.88 939.48 L693.89 941.24 L692.73 942.97 L691.39 944.65 L689.89 946.29 L688.22 947.89 L686.39 949.44 L684.41 950.94 L682.27 952.40 L679.99 953.81 L677.57 955.17 L675.02 956.48 L672.33 957.75 L669.53 958.96 L666.61 960.13 L663.58 961.24 L660.45 962.31 L657.22 963.32 L653.90 964.29 L650.51 965.20 L647.04 966.07 L643.50 966.88 L639.90 967.65 L636.25 968.37 L632.56 969.04 L628.83 969.66 L625.06 970.23 L621.28 970.75 L617.47 971.23 L613.66 971.65 L609.84 972.03 L606.02 972.36 L602.21 972.65 L598.42 972.89 L594.65 973.08 L590.90 973.22 L587.19 973.32 L583.51 973.36 L579.88 973.37 L576.29 973.32 L572.76 973.23 L569.28 973.09 L565.87 972.91 L562.52 972.67 L559.24 972.40 L556.04 972.07 L552.91 971.69 L549.86 971.27 L546.89 970.80 L544.01 970.28 L541.22 969.72 L538.52 969.10 L535.92 968.44 L533.41 967.73 L531.00 966.96 L528.69 966.15 L526.49 965.29 L524.38 964.38 L522.39 963.42 L520.50 962.41 L518.72 961.35 L517.05 960.24 L515.49 959.08 L514.04 957.87 L512.70 956.62 L511.48 955.31 L510.37 953.95 L509.38 952.55 L508.50 951.09 L507.74 949.59 L507.10 948.05 L506.57 946.45 L506.16 944.82 L505.86 943.14 L505.69 941.42 L505.63 939.66 L505.69 937.86 L505.86 936.03 L506.16 934.16 L506.57 932.25 L507.10 930.32 L507.74 928.37 L508.50 926.38 L509.38 924.38 L510.37 922.36 L511.48 920.33 L512.70 918.28 L514.04 916.23 L515.49 914.18 L517.05 912.13 L518.72 910.08 L520.50 908.05 L522.39 906.03 L524.38 904.03 L526.49 902.06 L528.69 900.11 L531.00 898.20 L533.41 896.34 L535.92 894.52 L538.52 892.75 L541.22 891.03 L544.01 889.38 L546.89 887.79 L549.86 886.28 L552.91 884.84 L556.04 883.48 L559.24 882.21 L562.52 881.03 L565.87 879.94 L569.28 878.94 L572.76 878.05 L576.29 877.26 L579.88 876.58 L583.51 876.01 L587.19 875.55 L590.90 875.20 L594.65 874.96 L598.42 874.84 L602.21 874.83 L606.02 874.94 L609.84 875.17 L613.66 875.50 L617.47 875.96 L621.28 876.52 L625.06 877.19 L628.83 877.97 L632.56 878.85 L636.25 879.83 L639.90 880.91 L643.50 882.08 L647.04 883.35 L650.51 884.70 L653.90 886.13 L657.22 887.64 L660.45 889.22 L663.58 890.86 L666.61 892.57 L669.53 894.33 L672.33 896.15 L675.02 898.01 L677.57 899.92 L679.99 901.86 L682.27 903.83 L684.41 905.82 L686.39 907.84 L688.22 909.87 L689.89 911.92 L691.39 913.97 L692.73 916.02 L693.89 918.07 L694.88 920.12 L695.70 922.16 L696.33 924.18 L696.79 926.18 L697.06 928.17 Z"/>
<path d="M586.01 857.85 L585.93 860.99 L585.69 864.08 L585.29 867.13 L584.74 870.13 L584.04 873.08 L583.18 875.97 L582.17 878.79 L581.01 881.55 L579.71 884.25 L578.26 886.87 L576.68 889.43 L574.96 891.91 L573.11 894.32 L571.14 896.65 L569.05 898.91 L566.84 901.08 L564.52 903.18 L562.10 905.21 L559.58 907.15 L556.97 909.01 L554.27 910.79 L551.49 912.49 L548.64 914.11 L545.71 915.65 L542.73 917.11 L539.69 918.49 L536.60 919.79 L533.47 921.02 L530.30 922.16 L527.11 923.22 L523.88 924.21 L520.64 925.11 L517.39 925.94 L514.13 926.69 L510.87 927.36 L507.62 927.96 L504.37 928.48 L501.14 928.92 L497.93 929.29 L494.75 929.58 L491.60 929.79 L488.48 929.93 L485.40 929.99 L482.36 929.98 L479.37 929.89 L476.43 929.72 L473.54 929.48 L470.71 929.16 L467.94 928.77 L465.24 928.30 L462.60 927.75 L460.03 927.13 L457.54 926.43 L455.12 925.65 L452.77 924.79 L450.50 923.86 L448.32 922.85 L446.21 921.76 L444.20 920.58 L442.26 919.33 L440.41 918.01 L438.65 916.60 L436.98 915.11 L435.41 913.54 L433.92 911.89 L432.52 910.16 L431.22 908.35 L430.01 906.46 L428.90 904.49 L427.88 902.44 L426.95 900.31 L426.13 898.10 L425.40 895.82 L424.76 893.46 L424.22 891.02 L423.78 888.52 L423.44 885.93 L423.20 883.28 L423.05 880.57 L423.00 877.78 L423.05 874.93 L423.20 872.02 L423.44 869.06 L423.78 866.04 L424.22 862.97 L424.76 859.86 L425.40 856.70 L426.13 853.51 L426.95 850.29 L427.88 847.04 L428.90 843.77 L430.01 840.48 L431.22 837.19 L432.52 833.90 L433.92 830.61 L435.41 827.33 L436.98 824.08 L438.65 820.85 L440.41 817.65 L442.26 814.50 L444.20 811.40 L446.21 808.36 L448.32 805.39 L450.50 802.49 L452.77 799.68 L455.12 796.96 L457.54 794.34 L460.03 791.83 L462.60 789.43 L465.24 787.16 L467.94 785.02 L470.71 783.02 L473.54 781.16 L476.43 779.45 L479.37 777.90 L482.36 776.51 L485.40 775.29 L488.48 774.24 L491.60 773.37 L494.75 772.67 L497.93 772.15 L501.14 771.82 L504.37 771.67 L507.62 771.70 L510.87 771.92 L514.13 772.32 L517.39 772.90 L520.64 773.66 L523.88 774.60 L527.11 775.71 L530.30 776.99 L533.47 778.44 L536.60 780.05 L539.69 781.81 L542.73 783.72 L545.71 785.77 L548.64 787.96 L551.49 790.28 L554.27 792.72 L556.97 795.27 L559.58 797.93 L562.10 800.68 L564.52 803.53 L566.84 806.45 L569.05 809.45 L571.14 812.51 L573.11 815.63 L574.96 818.80 L576.68 822.01 L578.26 825.25 L579.71 828.51 L581.01 831.79 L582.17 835.08 L583.18 838.38 L584.04 841.67 L584.74 844.95 L585.29 848.21 L585.69 851.45 L585.93 854.67 Z"/>
<path d="M681.61 802.54 L681.53 806.73 L681.29 810.87 L680.89 814.96 L680.33 818.98 L679.61 822.94 L678.73 826.82 L677.70 830.63 L676.52 834.35 L675.19 837.99 L673.72 841.54 L672.10 845.00 L670.35 848.36 L668.46 851.63 L666.44 854.81 L664.30 857.88 L662.03 860.85 L659.65 863.72 L657.17 866.48 L654.57 869.14 L651.89 871.70 L649.10 874.15 L646.24 876.50 L643.29 878.74 L640.26 880.87 L637.17 882.90 L634.02 884.83 L630.82 886.65 L627.56 888.37 L624.26 889.98 L620.93 891.49 L617.56 892.90 L614.17 894.20 L610.77 895.40 L607.35 896.51 L603.92 897.51 L600.50 898.41 L597.08 899.21 L593.67 899.91 L590.27 900.51 L586.90 901.01 L583.55 901.41 L580.24 901.72 L576.96 901.93 L573.72 902.03 L570.53 902.04 L567.39 901.96 L564.30 901.77 L561.26 901.49 L558.29 901.11 L555.38 900.63 L552.54 900.05 L549.77 899.37 L547.07 898.59 L544.45 897.71 L541.91 896.73 L539.45 895.65 L537.08 894.47 L534.79 893.19 L532.59 891.80 L530.48 890.32 L528.47 888.73 L526.55 887.03 L524.72 885.23 L522.99 883.33 L521.36 881.32 L519.83 879.21 L518.40 876.99 L517.07 874.67 L515.85 872.24 L514.73 869.71 L513.71 867.07 L512.80 864.33 L511.99 861.48 L511.30 858.53 L510.70 855.48 L510.22 852.33 L509.84 849.08 L509.57 845.74 L509.41 842.30 L509.36 838.77 L509.41 835.15 L509.57 831.44 L509.84 827.66 L510.22 823.79 L510.70 819.85 L511.30 815.84 L511.99 811.77 L512.80 807.64 L513.71 803.45 L514.73 799.23 L515.85 794.96 L517.07 790.66 L518.40 786.34 L519.83 782.00 L521.36 777.65 L522.99 773.31 L524.72 768.98 L526.55 764.67 L528.47 760.39 L530.48 756.15 L532.59 751.96 L534.79 747.84 L537.08 743.79 L539.45 739.82 L541.91 735.96 L544.45 732.19 L547.07 728.55 L549.77 725.03 L552.54 721.65 L555.38 718.43 L558.29 715.36 L561.26 712.47 L564.30 709.75 L567.39 707.23 L570.53 704.90 L573.72 702.78 L576.96 700.87 L580.24 699.18 L583.55 697.71 L586.90 696.48 L590.27 695.49 L593.67 694.73 L597.08 694.21 L600.50 693.94 L603.92 693.92 L607.35 694.13 L610.77 694.60 L614.17 695.30 L617.56 696.25 L620.93 697.43 L624.26 698.84 L627.56 700.48 L630.82 702.34 L634.02 704.42 L637.17 706.70 L640.26 709.19 L643.29 711.86 L646.24 714.72 L649.10 717.75 L651.89 720.94 L654.57 724.28 L657.17 727.77 L659.65 731.39 L662.03 735.13 L664.30 738.97 L666.44 742.92 L668.46 746.95 L670.35 751.06 L672.10 755.23 L673.72 759.46 L675.19 763.73 L676.52 768.04 L677.70 772.37 L678.73 776.71 L679.61 781.05 L680.33 785.39 L680.89 789.72 L681.29 794.03 L681.53 798.30 Z"/>
<path d="M639.96 844.11 L639.88 847.20 L639.63 850.26 L639.23 853.29 L638.66 856.28 L637.93 859.23 L637.04 862.13 L636.00 864.98 L634.81 867.78 L633.46 870.52 L631.97 873.20 L630.34 875.82 L628.57 878.37 L626.66 880.86 L624.62 883.28 L622.46 885.63 L620.17 887.91 L617.78 890.11 L615.27 892.25 L612.66 894.30 L609.95 896.28 L607.15 898.19 L604.27 900.01 L601.31 901.76 L598.27 903.43 L595.17 905.03 L592.01 906.54 L588.79 907.98 L585.53 909.34 L582.23 910.62 L578.89 911.82 L575.53 912.95 L572.15 913.99 L568.75 914.96 L565.34 915.85 L561.92 916.66 L558.51 917.40 L555.11 918.06 L551.72 918.64 L548.35 919.15 L545.00 919.58 L541.68 919.93 L538.40 920.20 L535.15 920.40 L531.95 920.53 L528.79 920.58 L525.68 920.55 L522.63 920.44 L519.64 920.26 L516.71 920.01 L513.84 919.67 L511.05 919.26 L508.32 918.78 L505.67 918.22 L503.10 917.58 L500.60 916.86 L498.19 916.07 L495.86 915.20 L493.62 914.25 L491.47 913.22 L489.41 912.12 L487.43 910.93 L485.56 909.67 L483.77 908.33 L482.08 906.92 L480.49 905.42 L479.00 903.85 L477.60 902.20 L476.31 900.47 L475.12 898.66 L474.02 896.78 L473.03 894.81 L472.15 892.78 L471.36 890.66 L470.68 888.48 L470.11 886.22 L469.63 883.89 L469.27 881.48 L469.00 879.01 L468.85 876.48 L468.79 873.87 L468.85 871.21 L469.00 868.48 L469.27 865.70 L469.63 862.86 L470.11 859.97 L470.68 857.04 L471.36 854.06 L472.15 851.04 L473.03 847.98 L474.02 844.90 L475.12 841.79 L476.31 838.66 L477.60 835.51 L479.00 832.36 L480.49 829.21 L482.08 826.05 L483.77 822.91 L485.56 819.78 L487.43 816.68 L489.41 813.61 L491.47 810.58 L493.62 807.59 L495.86 804.66 L498.19 801.79 L500.60 798.98 L503.10 796.25 L505.67 793.61 L508.32 791.05 L511.05 788.60 L513.84 786.25 L516.71 784.01 L519.64 781.89 L522.63 779.90 L525.68 778.04 L528.79 776.32 L531.95 774.75 L535.15 773.32 L538.40 772.04 L541.68 770.93 L545.00 769.97 L548.35 769.18 L551.72 768.56 L555.11 768.11 L558.51 767.83 L561.92 767.72 L565.34 767.78 L568.75 768.02 L572.15 768.43 L575.53 769.01 L578.89 769.76 L582.23 770.67 L585.53 771.74 L588.79 772.98 L592.01 774.37 L595.17 775.91 L598.27 777.59 L601.31 779.42 L604.27 781.37 L607.15 783.46 L609.95 785.67 L612.66 787.99 L615.27 790.42 L617.78 792.95 L620.17 795.57 L622.46 798.28 L624.62 801.06 L626.66 803.92 L628.57 806.84 L630.34 809.81 L631.97 812.84 L633.46 815.90 L634.81 818.99 L636.00 822.11 L637.04 825.25 L637.93 828.40 L638.66 831.56 L639.23 834.71 L639.63 837.86 L639.88 840.99 Z"/>
<path d="M689.30 930.13 L689.21 932.06 L688.94 933.96 L688.50 935.84 L687.87 937.68 L687.07 939.48 L686.09 941.24 L684.94 942.97 L683.62 944.65 L682.14 946.29 L680.50 947.89 L678.70 949.44 L676.74 950.94 L674.64 952.40 L672.39 953.81 L670.01 955.17 L667.49 956.48 L664.84 957.75 L662.08 958.96 L659.20 960.13 L656.22 961.24 L653.13 962.31 L649.95 963.32 L646.68 964.29 L643.34 965.20 L639.92 966.07 L636.43 966.88 L632.89 967.65 L629.29 968.37 L625.65 969.04 L621.97 969.66 L618.26 970.23 L614.53 970.75 L610.78 971.23 L607.02 971.65 L603.26 972.03 L599.50 972.36 L595.75 972.65 L592.01 972.89 L588.29 973.08 L584.60 973.22 L580.94 973.32 L577.32 973.36 L573.74 973.37 L570.21 973.32 L566.72 973.23 L563.30 973.09 L559.93 972.91 L556.64 972.67 L553.40 972.40 L550.24 972.07 L547.16 971.69 L544.16 971.27 L541.23 970.80 L538.40 970.28 L535.65 969.72 L532.99 969.10 L530.42 968.44 L527.95 967.73 L525.58 966.96 L523.30 966.15 L521.13 965.29 L519.06 964.38 L517.09 963.42 L515.23 962.41 L513.47 961.35 L511.83 960.24 L510.29 959.08 L508.86 957.87 L507.54 956.62 L506.34 955.31 L505.25 953.95 L504.27 952.55 L503.41 951.09 L502.66 949.59 L502.02 948.05 L501.50 946.45 L501.10 944.82 L500.81 943.14 L500.63 941.42 L500.57 939.66 L500.63 937.86 L500.81 936.03 L501.10 934.16 L501.50 932.25 L502.02 930.32 L502.66 928.37 L503.41 926.38 L504.27 924.38 L505.25 922.36 L506.34 920.33 L507.54 918.28 L508.86 916.23 L510.29 914.18 L511.83 912.13 L513.47 910.08 L515.23 908.05 L517.09 906.03 L519.06 904.03 L521.13 902.06 L523.30 900.11 L525.58 898.20 L527.95 896.34 L530.42 894.52 L532.99 892.75 L535.65 891.03 L538.40 889.38 L541.23 887.79 L544.16 886.28 L547.16 884.84 L550.24 883.48 L553.40 882.21 L556.64 881.03 L559.93 879.94 L563.30 878.94 L566.72 878.05 L570.21 877.26 L573.74 876.58 L577.32 876.01 L580.94 875.55 L584.60 875.20 L588.29 874.96 L592.01 874.84 L595.75 874.83 L599.50 874.94 L603.26 875.17 L607.02 875.50 L610.78 875.96 L614.53 876.52 L618.26 877.19 L621.97 877.97 L625.65 878.85 L629.29 879.83 L632.89 880.91 L636.43 882.08 L639.92 883.35 L643.34 884.70 L646.68 886.13 L649.95 887.64 L653.13 889.22 L656.22 890.86 L659.20 892.57 L662.08 894.33 L664.84 896.15 L667.49 898.01 L670.01 899.92 L672.39 901.86 L674.64 903.83 L676.74 905.82 L678.70 907.84 L680.50 909.87 L682.14 911.92 L683.62 913.97 L684.94 916.02 L686.09 918.07 L687.07 920.12 L687.87 922.16 L688.50 924.18 L688.94 926.18 L689.21 928.17 Z"/>
<path d="M727.84 772.65 L727.76 777.56 L727.49 782.43 L727.06 787.26 L726.45 792.03 L725.66 796.73 L724.71 801.37 L723.59 805.93 L722.30 810.41 L720.86 814.80 L719.25 819.10 L717.49 823.30 L715.58 827.40 L713.52 831.40 L711.33 835.29 L708.99 839.07 L706.53 842.74 L703.94 846.30 L701.23 849.74 L698.41 853.06 L695.49 856.27 L692.46 859.36 L689.34 862.33 L686.13 865.18 L682.84 867.91 L679.47 870.52 L676.04 873.01 L672.55 875.38 L669.01 877.64 L665.42 879.78 L661.79 881.79 L658.12 883.70 L654.44 885.49 L650.73 887.16 L647.01 888.72 L643.28 890.16 L639.55 891.49 L635.83 892.71 L632.11 893.82 L628.42 894.82 L624.75 895.71 L621.11 896.48 L617.50 897.15 L613.93 897.71 L610.41 898.17 L606.93 898.51 L603.51 898.75 L600.15 898.88 L596.84 898.90 L593.61 898.81 L590.44 898.62 L587.35 898.32 L584.33 897.91 L581.40 897.40 L578.55 896.77 L575.78 896.04 L573.11 895.20 L570.52 894.24 L568.03 893.18 L565.64 892.01 L563.34 890.72 L561.15 889.32 L559.06 887.81 L557.07 886.19 L555.19 884.45 L553.41 882.59 L551.75 880.62 L550.19 878.53 L548.75 876.32 L547.41 874.00 L546.19 871.56 L545.09 868.99 L544.09 866.31 L543.22 863.51 L542.46 860.59 L541.81 857.55 L541.28 854.40 L540.87 851.12 L540.58 847.73 L540.40 844.22 L540.34 840.60 L540.40 836.86 L540.58 833.01 L540.87 829.06 L541.28 825.00 L541.81 820.84 L542.46 816.58 L543.22 812.23 L544.09 807.78 L545.09 803.26 L546.19 798.65 L547.41 793.97 L548.75 789.23 L550.19 784.42 L551.75 779.57 L553.41 774.67 L555.19 769.74 L557.07 764.79 L559.06 759.82 L561.15 754.84 L563.34 749.88 L565.64 744.93 L568.03 740.01 L570.52 735.13 L573.11 730.30 L575.78 725.54 L578.55 720.86 L581.40 716.27 L584.33 711.79 L587.35 707.42 L590.44 703.19 L593.61 699.10 L596.84 695.17 L600.15 691.41 L603.51 687.83 L606.93 684.44 L610.41 681.27 L613.93 678.31 L617.50 675.57 L621.11 673.08 L624.75 670.83 L628.42 668.84 L632.11 667.10 L635.83 665.64 L639.55 664.45 L643.28 663.54 L647.01 662.91 L650.73 662.57 L654.44 662.51 L658.12 662.74 L661.79 663.25 L665.42 664.04 L669.01 665.12 L672.55 666.47 L676.04 668.09 L679.47 669.98 L682.84 672.12 L686.13 674.52 L689.34 677.15 L692.46 680.02 L695.49 683.11 L698.41 686.41 L701.23 689.91 L703.94 693.60 L706.53 697.46 L708.99 701.49 L711.33 705.67 L713.52 709.98 L715.58 714.41 L717.49 718.96 L719.25 723.61 L720.86 728.34 L722.30 733.14 L723.59 737.99 L724.71 742.90 L725.66 747.84 L726.45 752.80 L727.06 757.77 L727.49 762.75 L727.76 767.71 Z"/>
<path d="M814.57 857.56 L814.48 860.53 L814.21 863.47 L813.76 866.37 L813.12 869.22 L812.31 872.03 L811.32 874.78 L810.16 877.49 L808.83 880.13 L807.32 882.72 L805.65 885.24 L803.83 887.70 L801.84 890.09 L799.70 892.42 L797.42 894.68 L794.99 896.86 L792.42 898.98 L789.73 901.02 L786.91 902.99 L783.97 904.88 L780.91 906.70 L777.75 908.45 L774.49 910.12 L771.14 911.71 L767.70 913.23 L764.18 914.67 L760.59 916.03 L756.93 917.32 L753.22 918.54 L749.45 919.67 L745.64 920.74 L741.79 921.72 L737.92 922.63 L734.01 923.47 L730.10 924.23 L726.17 924.92 L722.24 925.53 L718.31 926.07 L714.39 926.54 L710.48 926.93 L706.60 927.25 L702.74 927.49 L698.92 927.66 L695.14 927.76 L691.40 927.78 L687.71 927.74 L684.07 927.61 L680.49 927.42 L676.98 927.15 L673.53 926.81 L670.16 926.39 L666.86 925.90 L663.64 925.34 L660.50 924.70 L657.46 923.99 L654.50 923.20 L651.63 922.34 L648.87 921.40 L646.20 920.39 L643.63 919.30 L641.17 918.14 L638.81 916.90 L636.57 915.59 L634.43 914.20 L632.41 912.73 L630.50 911.19 L628.70 909.57 L627.03 907.88 L625.47 906.11 L624.04 904.26 L622.72 902.35 L621.53 900.35 L620.46 898.29 L619.51 896.15 L618.69 893.94 L618.00 891.66 L617.43 889.31 L616.98 886.89 L616.67 884.41 L616.48 881.87 L616.41 879.26 L616.48 876.60 L616.67 873.88 L616.98 871.10 L617.43 868.28 L618.00 865.41 L618.69 862.50 L619.51 859.55 L620.46 856.56 L621.53 853.55 L622.72 850.51 L624.04 847.45 L625.47 844.38 L627.03 841.31 L628.70 838.22 L630.50 835.15 L632.41 832.08 L634.43 829.03 L636.57 826.01 L638.81 823.02 L641.17 820.06 L643.63 817.15 L646.20 814.30 L648.87 811.50 L651.63 808.78 L654.50 806.13 L657.46 803.56 L660.50 801.08 L663.64 798.71 L666.86 796.43 L670.16 794.27 L673.53 792.23 L676.98 790.31 L680.49 788.53 L684.07 786.88 L687.71 785.37 L691.40 784.02 L695.14 782.81 L698.92 781.76 L702.74 780.87 L706.60 780.14 L710.48 779.58 L714.39 779.18 L718.31 778.96 L722.24 778.90 L726.17 779.01 L730.10 779.30 L734.01 779.75 L737.92 780.36 L741.79 781.15 L745.64 782.09 L749.45 783.19 L753.22 784.45 L756.93 785.86 L760.59 787.41 L764.18 789.11 L767.70 790.93 L771.14 792.89 L774.49 794.98 L777.75 797.18 L780.91 799.48 L783.97 801.90 L786.91 804.40 L789.73 807.00 L792.42 809.67 L794.99 812.42 L797.42 815.24 L799.70 818.11 L801.84 821.04 L803.83 824.00 L805.65 827.01 L807.32 830.04 L808.83 833.10 L810.16 836.17 L811.32 839.25 L812.31 842.33 L813.12 845.40 L813.76 848.47 L814.21 851.52 L814.48 854.55 Z"/>
<path d="M739.33 926.00 L739.23 927.89 L738.94 929.74 L738.45 931.56 L737.76 933.34 L736.89 935.08 L735.82 936.78 L734.56 938.43 L733.12 940.05 L731.50 941.61 L729.70 943.13 L727.73 944.61 L725.59 946.03 L723.28 947.41 L720.82 948.73 L718.21 950.01 L715.46 951.24 L712.57 952.42 L709.54 953.54 L706.39 954.62 L703.12 955.64 L699.75 956.61 L696.27 957.54 L692.69 958.41 L689.03 959.23 L685.29 960.00 L681.47 960.72 L677.59 961.39 L673.66 962.01 L669.67 962.58 L665.65 963.09 L661.59 963.56 L657.51 963.98 L653.40 964.35 L649.29 964.67 L645.17 964.94 L641.05 965.16 L636.95 965.33 L632.86 965.45 L628.79 965.53 L624.75 965.55 L620.75 965.53 L616.78 965.45 L612.86 965.33 L609.00 965.16 L605.19 964.94 L601.44 964.67 L597.76 964.35 L594.15 963.98 L590.61 963.56 L587.15 963.09 L583.78 962.58 L580.49 962.01 L577.29 961.39 L574.19 960.72 L571.18 960.00 L568.27 959.23 L565.46 958.41 L562.75 957.54 L560.16 956.61 L557.67 955.64 L555.29 954.62 L553.02 953.54 L550.87 952.42 L548.83 951.24 L546.91 950.01 L545.11 948.73 L543.43 947.41 L541.86 946.03 L540.42 944.61 L539.11 943.13 L537.91 941.61 L536.84 940.05 L535.89 938.43 L535.07 936.78 L534.38 935.08 L533.81 933.34 L533.37 931.56 L533.05 929.74 L532.86 927.89 L532.80 926.00 L532.86 924.08 L533.05 922.13 L533.37 920.16 L533.81 918.16 L534.38 916.14 L535.07 914.11 L535.89 912.06 L536.84 910.00 L537.91 907.93 L539.11 905.86 L540.42 903.80 L541.86 901.74 L543.43 899.69 L545.11 897.66 L546.91 895.64 L548.83 893.66 L550.87 891.70 L553.02 889.77 L555.29 887.89 L557.67 886.05 L560.16 884.26 L562.75 882.53 L565.46 880.86 L568.27 879.25 L571.18 877.71 L574.19 876.25 L577.29 874.86 L580.49 873.56 L583.78 872.34 L587.15 871.22 L590.61 870.19 L594.15 869.26 L597.76 868.44 L601.44 867.71 L605.19 867.10 L609.00 866.59 L612.86 866.19 L616.78 865.91 L620.75 865.74 L624.75 865.68 L628.79 865.74 L632.86 865.91 L636.95 866.19 L641.05 866.59 L645.17 867.10 L649.29 867.71 L653.40 868.44 L657.51 869.26 L661.59 870.19 L665.65 871.22 L669.67 872.34 L673.66 873.56 L677.59 874.86 L681.47 876.25 L685.29 877.71 L689.03 879.25 L692.69 880.86 L696.27 882.53 L699.75 884.26 L703.12 886.05 L706.39 887.89 L709.54 889.77 L712.57 891.70 L715.46 893.66 L718.21 895.64 L720.82 897.66 L723.28 899.69 L725.59 901.74 L727.73 903.80 L729.70 905.86 L731.50 907.93 L733.12 910.00 L734.56 912.06 L735.82 914.11 L736.89 916.14 L737.76 918.16 L738.45 920.16 L738.94 922.13 L739.23 924.08 Z"/>
<path d="M780.57 941.48 L780.45 943.52 L780.09 945.54 L779.49 947.53 L778.66 949.50 L777.59 951.44 L776.29 953.34 L774.76 955.21 L773.01 957.04 L771.04 958.83 L768.85 960.58 L766.46 962.28 L763.86 963.95 L761.07 965.56 L758.09 967.13 L754.93 968.65 L751.59 970.13 L748.09 971.55 L744.43 972.93 L740.63 974.25 L736.69 975.53 L732.61 976.75 L728.42 977.93 L724.12 979.06 L719.71 980.14 L715.21 981.17 L710.64 982.15 L705.98 983.08 L701.27 983.97 L696.50 984.80 L691.69 985.60 L686.84 986.34 L681.97 987.04 L677.08 987.69 L672.19 988.30 L667.29 988.86 L662.40 989.38 L657.53 989.85 L652.69 990.28 L647.87 990.67 L643.10 991.01 L638.37 991.31 L633.70 991.57 L629.09 991.79 L624.54 991.97 L620.06 992.10 L615.66 992.20 L611.35 992.25 L607.12 992.26 L602.98 992.23 L598.94 992.16 L595.00 992.04 L591.17 991.89 L587.45 991.69 L583.83 991.45 L580.34 991.17 L576.96 990.85 L573.70 990.49 L570.57 990.08 L567.56 989.63 L564.68 989.13 L561.93 988.59 L559.31 988.01 L556.82 987.38 L554.48 986.71 L552.26 985.99 L550.19 985.22 L548.25 984.41 L546.45 983.55 L544.80 982.64 L543.28 981.68 L541.91 980.68 L540.68 979.63 L539.60 978.52 L538.65 977.37 L537.86 976.17 L537.20 974.92 L536.70 973.62 L536.33 972.27 L536.11 970.87 L536.04 969.42 L536.11 967.92 L536.33 966.38 L536.70 964.79 L537.20 963.15 L537.86 961.47 L538.65 959.74 L539.60 957.97 L540.68 956.16 L541.91 954.31 L543.28 952.43 L544.80 950.51 L546.45 948.55 L548.25 946.57 L550.19 944.57 L552.26 942.54 L554.48 940.49 L556.82 938.43 L559.31 936.35 L561.93 934.27 L564.68 932.19 L567.56 930.11 L570.57 928.04 L573.70 925.98 L576.96 923.94 L580.34 921.92 L583.83 919.94 L587.45 917.99 L591.17 916.07 L595.00 914.21 L598.94 912.40 L602.98 910.65 L607.12 908.96 L611.35 907.34 L615.66 905.80 L620.06 904.34 L624.54 902.97 L629.09 901.69 L633.70 900.51 L638.37 899.43 L643.10 898.45 L647.87 897.58 L652.69 896.83 L657.53 896.19 L662.40 895.67 L667.29 895.26 L672.19 894.99 L677.08 894.83 L681.97 894.80 L686.84 894.89 L691.69 895.10 L696.50 895.44 L701.27 895.90 L705.98 896.48 L710.64 897.18 L715.21 897.99 L719.71 898.91 L724.12 899.93 L728.42 901.07 L732.61 902.30 L736.69 903.62 L740.63 905.04 L744.43 906.54 L748.09 908.11 L751.59 909.77 L754.93 911.49 L758.09 913.27 L761.07 915.10 L763.86 916.99 L766.46 918.92 L768.85 920.89 L771.04 922.89 L773.01 924.92 L774.76 926.97 L776.29 929.04 L777.59 931.11 L778.66 933.19 L779.49 935.28 L780.09 937.35 L780.45 939.42 Z"/>
<path d="M774.36 938.60 L774.27 940.38 L774.00 942.14 L773.55 943.87 L772.93 945.57 L772.12 947.24 L771.14 948.87 L769.99 950.46 L768.67 952.01 L767.18 953.53 L765.53 955.00 L763.72 956.43 L761.75 957.82 L759.64 959.17 L757.38 960.47 L754.98 961.73 L752.44 962.94 L749.77 964.11 L746.98 965.23 L744.08 966.31 L741.06 967.33 L737.94 968.32 L734.72 969.26 L731.41 970.15 L728.02 970.99 L724.54 971.79 L721.00 972.54 L717.40 973.25 L713.74 973.92 L710.03 974.53 L706.27 975.11 L702.48 975.63 L698.67 976.12 L694.83 976.56 L690.98 976.95 L687.11 977.30 L683.25 977.61 L679.39 977.87 L675.54 978.09 L671.71 978.26 L667.90 978.40 L664.12 978.48 L660.37 978.53 L656.66 978.53 L653.00 978.49 L649.39 978.41 L645.83 978.28 L642.33 978.11 L638.89 977.89 L635.52 977.63 L632.22 977.33 L629.00 976.99 L625.85 976.60 L622.79 976.16 L619.82 975.68 L616.93 975.16 L614.14 974.59 L611.44 973.98 L608.84 973.32 L606.34 972.62 L603.94 971.87 L601.64 971.08 L599.46 970.23 L597.38 969.35 L595.41 968.42 L593.55 967.44 L591.81 966.41 L590.18 965.34 L588.66 964.22 L587.27 963.06 L585.99 961.85 L584.83 960.60 L583.79 959.30 L582.87 957.96 L582.07 956.58 L581.40 955.15 L580.84 953.68 L580.41 952.17 L580.11 950.62 L579.92 949.03 L579.86 947.40 L579.92 945.74 L580.11 944.05 L580.41 942.32 L580.84 940.56 L581.40 938.78 L582.07 936.97 L582.87 935.14 L583.79 933.29 L584.83 931.43 L585.99 929.55 L587.27 927.66 L588.66 925.77 L590.18 923.87 L591.81 921.98 L593.55 920.09 L595.41 918.21 L597.38 916.34 L599.46 914.50 L601.64 912.68 L603.94 910.88 L606.34 909.12 L608.84 907.39 L611.44 905.71 L614.14 904.08 L616.93 902.50 L619.82 900.97 L622.79 899.50 L625.85 898.11 L629.00 896.78 L632.22 895.52 L635.52 894.35 L638.89 893.25 L642.33 892.25 L645.83 891.33 L649.39 890.51 L653.00 889.78 L656.66 889.15 L660.37 888.62 L664.12 888.19 L667.90 887.87 L671.71 887.65 L675.54 887.54 L679.39 887.54 L683.25 887.64 L687.11 887.84 L690.98 888.16 L694.83 888.57 L698.67 889.09 L702.48 889.71 L706.27 890.43 L710.03 891.24 L713.74 892.15 L717.40 893.15 L721.00 894.23 L724.54 895.40 L728.02 896.65 L731.41 897.97 L734.72 899.36 L737.94 900.82 L741.06 902.34 L744.08 903.92 L746.98 905.54 L749.77 907.22 L752.44 908.94 L754.98 910.70 L757.38 912.49 L759.64 914.31 L761.75 916.16 L763.72 918.02 L765.53 919.90 L767.18 921.78 L768.67 923.68 L769.99 925.57 L771.14 927.47 L772.12 929.36 L772.93 931.24 L773.55 933.11 L774.00 934.96 L774.27 936.79 Z"/>
<path d="M697.17 958.63 L697.07 960.79 L696.75 962.89 L696.23 964.95 L695.50 966.96 L694.57 968.92 L693.43 970.82 L692.09 972.67 L690.55 974.46 L688.83 976.19 L686.91 977.87 L684.81 979.49 L682.54 981.05 L680.09 982.55 L677.48 984.00 L674.71 985.38 L671.79 986.71 L668.73 987.99 L665.53 989.20 L662.20 990.37 L658.74 991.47 L655.18 992.53 L651.51 993.53 L647.74 994.48 L643.89 995.38 L639.95 996.22 L635.95 997.02 L631.88 997.77 L627.75 998.47 L623.58 999.13 L619.37 999.74 L615.13 1000.30 L610.87 1000.82 L606.60 1001.30 L602.32 1001.73 L598.04 1002.12 L593.77 1002.47 L589.51 1002.78 L585.28 1003.05 L581.07 1003.28 L576.90 1003.46 L572.77 1003.61 L568.69 1003.72 L564.66 1003.79 L560.69 1003.82 L556.78 1003.81 L552.94 1003.76 L549.17 1003.68 L545.48 1003.55 L541.87 1003.38 L538.35 1003.18 L534.91 1002.93 L531.57 1002.65 L528.32 1002.32 L525.17 1001.95 L522.12 1001.54 L519.17 1001.09 L516.33 1000.59 L513.60 1000.05 L510.97 999.47 L508.46 998.84 L506.07 998.16 L503.78 997.44 L501.62 996.66 L499.57 995.84 L497.64 994.97 L495.83 994.05 L494.15 993.08 L492.58 992.06 L491.14 990.98 L489.82 989.85 L488.62 988.66 L487.55 987.41 L486.61 986.12 L485.79 984.76 L485.09 983.35 L484.52 981.88 L484.08 980.35 L483.76 978.76 L483.57 977.11 L483.51 975.41 L483.57 973.65 L483.76 971.83 L484.08 969.96 L484.52 968.03 L485.09 966.05 L485.79 964.02 L486.61 961.94 L487.55 959.81 L488.62 957.64 L489.82 955.42 L491.14 953.17 L492.58 950.88 L494.15 948.57 L495.83 946.22 L497.64 943.85 L499.57 941.47 L501.62 939.08 L503.78 936.68 L506.07 934.28 L508.46 931.89 L510.97 929.52 L513.60 927.17 L516.33 924.84 L519.17 922.55 L522.12 920.31 L525.17 918.11 L528.32 915.98 L531.57 913.91 L534.91 911.92 L538.35 910.01 L541.87 908.19 L545.48 906.47 L549.17 904.85 L552.94 903.34 L556.78 901.96 L560.69 900.69 L564.66 899.56 L568.69 898.56 L572.77 897.70 L576.90 896.98 L581.07 896.41 L585.28 895.99 L589.51 895.72 L593.77 895.60 L598.04 895.63 L602.32 895.82 L606.60 896.16 L610.87 896.65 L615.13 897.29 L619.37 898.07 L623.58 898.99 L627.75 900.06 L631.88 901.25 L635.95 902.57 L639.95 904.01 L643.89 905.57 L647.74 907.24 L651.51 909.01 L655.18 910.87 L658.74 912.82 L662.20 914.84 L665.53 916.94 L668.73 919.10 L671.79 921.32 L674.71 923.59 L677.48 925.89 L680.09 928.23 L682.54 930.60 L684.81 932.98 L686.91 935.37 L688.83 937.77 L690.55 940.17 L692.09 942.56 L693.43 944.93 L694.57 947.29 L695.50 949.62 L696.23 951.93 L696.75 954.20 L697.07 956.44 Z"/>
</g>
<path d="M325.20 681.50 L376.25 710.50 L550.60 744.40 L565.20 636.60 L575.70 519.70 L581.00 524.80 L680.70 457.40 L775.30 595.80 L962.30 795.80 L923.00 800.50 L957.00 884.50 L821.20 935.50 L786.20 793.30 L667.25 789.75 L522.25 827.50 L591.00 738.60 L599.10 637.00 L591.40 737.20 L659.10 732.75 L726.60 840.60 L773.80 870.50 L826.70 822.50 L725.60 806.90 L640.00 902.50 L556.90 896.40 L619.75 905.50 L549.30 920.80 L550.60 936.40 L590.90 935.00 L494.75 868.10 L586.90 821.40 L545.00 859.60 L584.60 935.00 L624.75 809.10 L706.60 868.75 L624.75 926.00 L643.10 956.60 L667.90 943.10 L576.90 967.50" fill="none" stroke="#000" stroke-width="0.75"/>
<g fill="#ff0000" font-size="14.7" text-anchor="middle">
<text transform="translate(325.20 681.50) scale(0.950 1.055)" y="5.0">1985</text>
<text transform="translate(376.25 710.50) scale(0.950 1.055)" y="5.0">1986</text>
<text transform="translate(550.60 744.40) scale(0.950 1.055)" y="5.0">1987</text>
<text transform="translate(565.20 636.60) scale(0.950 1.055)" y="5.0">1988</text>
<text transform="translate(575.70 519.70) scale(0.950 1.055)" y="5.0">1989</text>
<text transform="translate(581.00 524.80) scale(0.950 1.055)" y="5.0">1990</text>
<text transform="translate(680.70 457.40) scale(0.950 1.055)" y="5.0">1991</text>
<text transform="translate(775.30 595.80) scale(0.950 1.055)" y="5.0">1992</text>
<text transform="translate(962.30 795.80) scale(0.950 1.055)" y="5.0">1993</text>
<text transform="translate(923.00 800.50) scale(0.950 1.055)" y="5.0">1994</text>
<text transform="translate(957.00 884.50) scale(0.950 1.055)" y="5.0">1995</text>
<text transform="translate(821.20 935.50) scale(0.950 1.055)" y="5.0">1996</text>
<text transform="translate(786.20 793.30) scale(0.950 1.055)" y="5.0">1997</text>
<text transform="translate(667.25 789.75) scale(0.950 1.055)" y="5.0">1998</text>
<text transform="translate(522.25 827.50) scale(0.950 1.055)" y="5.0">1999</text>
<text transform="translate(591.00 738.60) scale(0.950 1.055)" y="5.0">2000</text>
<text transform="translate(599.10 637.00) scale(0.950 1.055)" y="5.0">2001</text>
<text transform="translate(591.40 737.20) scale(0.950 1.055)" y="5.0">2002</text>
<text transform="translate(659.10 732.75) scale(0.950 1.055)" y="5.0">2003</text>
<text transform="translate(726.60 840.60) scale(0.950 1.055)" y="5.0">2004</text>
<text transform="translate(773.80 870.50) scale(0.950 1.055)" y="5.0">2005</text>
<text transform="translate(826.70 822.50) scale(0.950 1.055)" y="5.0">2006</text>
<text transform="translate(725.60 806.90) scale(0.950 1.055)" y="5.0">2007</text>
<text transform="translate(640.00 902.50) scale(0.950 1.055)" y="5.0">2008</text>
<text transform="translate(556.90 896.40) scale(0.950 1.055)" y="5.0">2009</text>
<text transform="translate(619.75 905.50) scale(0.950 1.055)" y="5.0">2010</text>
<text transform="translate(549.30 920.80) scale(0.950 1.055)" y="5.0">2011</text>
<text transform="translate(550.60 936.40) scale(0.950 1.055)" y="5.0">2012</text>
<text transform="translate(590.90 935.00) scale(0.950 1.055)" y="5.0">2013</text>
<text transform="translate(494.75 868.10) scale(0.950 1.055)" y="5.0">2014</text>
<text transform="translate(586.90 821.40) scale(0.950 1.055)" y="5.0">2015</text>
<text transform="translate(545.00 859.60) scale(0.950 1.055)" y="5.0">2016</text>
<text transform="translate(584.60 935.00) scale(0.950 1.055)" y="5.0">2017</text>
<text transform="translate(624.75 809.10) scale(0.950 1.055)" y="5.0">2018</text>
<text transform="translate(706.60 868.75) scale(0.950 1.055)" y="5.0">2019</text>
<text transform="translate(624.75 926.00) scale(0.950 1.055)" y="5.0">2020</text>
<text transform="translate(643.10 956.60) scale(0.950 1.055)" y="5.0">2021</text>
<text transform="translate(667.90 943.10) scale(0.950 1.055)" y="5.0">2022</text>
<text transform="translate(576.90 967.50) scale(0.950 1.055)" y="5.0">2023</text>
</g>
<g stroke="#000" stroke-width="0.75" fill="none">
<rect x="120" y="24" width="1056" height="1056"/>
<line x1="159.11" y1="1080" x2="1124.21" y2="1080"/>
<line x1="120" y1="1040.89" x2="120" y2="81.50"/>
<line x1="159.11" y1="1080" x2="159.11" y2="1092"/><line x1="352.13" y1="1080" x2="352.13" y2="1092"/><line x1="545.15" y1="1080" x2="545.15" y2="1092"/><line x1="738.17" y1="1080" x2="738.17" y2="1092"/><line x1="931.19" y1="1080" x2="931.19" y2="1092"/><line x1="1124.21" y1="1080" x2="1124.21" y2="1092"/>
<line x1="108" y1="1040.89" x2="120" y2="1040.89"/><line x1="108" y1="903.83" x2="120" y2="903.83"/><line x1="108" y1="766.78" x2="120" y2="766.78"/><line x1="108" y1="629.72" x2="120" y2="629.72"/><line x1="108" y1="492.67" x2="120" y2="492.67"/><line x1="108" y1="355.61" x2="120" y2="355.61"/><line x1="108" y1="218.55" x2="120" y2="218.55"/><line x1="108" y1="81.50" x2="120" y2="81.50"/>
</g>
<g fill="#000" font-size="20.5" text-anchor="middle">
<text transform="translate(159.11 1122.8) scale(0.955 1.090)">0</text><text transform="translate(352.13 1122.8) scale(0.955 1.090)">1000</text><text transform="translate(545.15 1122.8) scale(0.955 1.090)">2000</text><text transform="translate(738.17 1122.8) scale(0.955 1.090)">3000</text><text transform="translate(931.19 1122.8) scale(0.955 1.090)">4000</text><text transform="translate(1124.21 1122.8) scale(0.955 1.090)">5000</text>
<text transform="translate(90.8 1040.89) rotate(-90) scale(0.955 1.090)">0</text><text transform="translate(90.8 903.83) rotate(-90) scale(0.955 1.090)">2000</text><text transform="translate(90.8 766.78) rotate(-90) scale(0.955 1.090)">4000</text><text transform="translate(90.8 629.72) rotate(-90) scale(0.955 1.090)">6000</text><text transform="translate(90.8 492.67) rotate(-90) scale(0.955 1.090)">8000</text><text transform="translate(90.8 355.61) rotate(-90) scale(0.955 1.090)">10000</text><text transform="translate(90.8 218.55) rotate(-90) scale(0.955 1.090)">12000</text><text transform="translate(90.8 81.50) rotate(-90) scale(0.955 1.090)">14000</text>
<text transform="translate(648 1170.8) scale(0.955 1.09)">SSB</text>
<text transform="translate(42.5 552) rotate(-90) scale(0.955 1.09)">R(age 1)</text>
</g>
<text x="1194.6" y="1197.6" font-size="10.56" text-anchor="end" fill="#000">stockassessment.org, sole20_24_2024, r18261 , git: c9c81ac53a0d</text>
</svg>
</body></html>
